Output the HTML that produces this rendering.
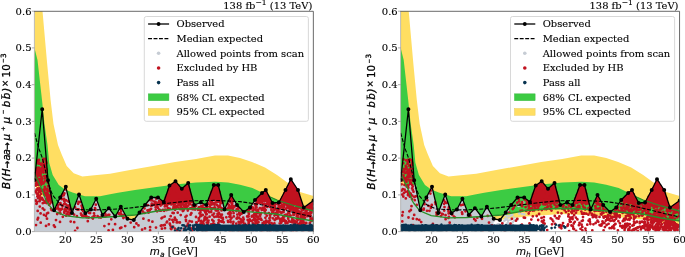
<!DOCTYPE html>
<html><head><meta charset="utf-8"><title>plot</title>
<style>
html,body{margin:0;padding:0;background:#fff}
svg{display:block;will-change:transform}
text{font-family:"DejaVu Serif","Liberation Serif",serif;fill:#000;stroke:#000;stroke-width:0.12px}
.tk{font-size:10.0px}
.lb{font-size:10.35px}
.tt{font-size:9.95px}
.lg{font-size:9.95px}
.mi{font-family:"DejaVu Sans","Liberation Sans",sans-serif;font-style:italic;stroke-width:0.3px}
</style></head><body>
<svg width="685" height="257" viewBox="0 0 685 257">
<rect width="685" height="257" fill="#fff"/>
<clipPath id="c0"><rect x="34.4" y="11.2" width="278.90000000000003" height="220.4"/></clipPath>
<g clip-path="url(#c0)">
<polygon points="34.5,-90.0 42.5,11.0 47.0,62.0 50.6,100.0 53.5,124.0 58.0,145.0 61.5,154.0 66.7,166.0 73.7,173.2 82.4,176.4 92.0,175.5 110.0,173.7 130.0,170.0 153.0,166.0 175.0,162.0 196.0,159.0 215.0,155.5 228.0,155.5 240.0,158.0 252.0,162.0 265.0,167.5 277.0,175.0 288.0,183.0 300.0,192.0 313.5,196.0 313.5,226.0 276.0,219.5 240.0,216.0 196.0,214.0 160.0,216.5 135.0,219.7 116.0,221.0 85.0,222.0 65.0,220.0 55.0,217.0 47.0,212.0 40.0,200.0 34.5,183.0" fill="#ffde62"/>
<polygon points="34.5,48.0 37.5,60.0 42.0,100.0 44.5,124.0 47.5,145.0 49.2,162.7 52.7,175.0 58.8,185.0 65.0,189.5 72.5,192.5 85.0,196.3 100.0,196.2 110.0,194.3 118.0,192.8 135.0,190.0 153.0,187.5 175.0,184.5 196.0,182.5 215.0,181.8 228.0,182.6 240.0,184.8 252.5,188.0 265.0,194.0 277.0,200.0 295.0,206.0 313.5,211.0 313.5,221.0 295.0,218.0 276.0,214.0 240.0,211.0 215.0,209.0 196.0,208.5 180.0,209.0 160.0,210.5 135.0,215.0 116.0,216.5 100.0,217.5 82.4,217.8 65.0,215.6 53.6,210.8 47.8,203.5 46.2,201.0 42.2,190.0 36.2,177.5 34.5,172.0" fill="#3ccb43"/>
<polygon points="34.4,204.0 34.9,204.0 35.4,204.0 35.9,204.0 36.4,204.0 36.9,204.0 37.4,204.0 37.9,204.0 38.4,204.0 38.9,204.0 39.4,204.0 39.9,204.0 40.4,204.0 40.9,204.0 41.4,204.0 41.9,204.0 42.4,204.0 42.9,204.0 43.4,204.0 43.9,204.0 44.4,204.0 44.9,204.0 45.4,204.0 45.9,204.0 46.4,204.0 46.9,204.0 47.4,204.0 47.9,204.0 48.4,204.0 48.9,204.0 49.4,200.0 49.9,195.0 50.4,192.0 50.9,194.5 51.4,196.9 51.9,199.4 52.4,201.8 52.9,204.3 53.4,206.8 53.9,209.2 54.4,209.6 54.9,208.5 55.4,207.5 55.9,206.4 56.4,205.4 56.9,204.3 57.4,203.3 57.9,202.2 58.4,201.2 58.9,200.1 59.4,199.1 59.9,198.0 60.4,197.0 60.9,196.1 61.4,195.1 61.9,194.2 62.4,193.2 62.9,192.3 63.4,191.3 63.9,190.4 64.4,189.4 64.9,188.5 65.4,187.6 65.9,187.2 66.4,189.3 66.9,191.4 67.4,193.6 67.9,195.7 68.4,197.8 68.9,199.9 69.4,202.0 69.9,204.1 70.4,206.2 70.9,208.4 71.4,210.5 71.9,212.6 72.4,211.9 72.9,210.6 73.4,209.3 73.9,208.0 74.4,206.7 74.9,205.3 75.4,204.0 75.9,202.7 76.4,201.4 76.9,200.0 77.4,198.7 77.9,197.4 78.4,196.1 78.9,194.8 79.4,195.7 79.9,197.2 80.4,198.7 80.9,200.1 81.4,201.6 81.9,203.1 82.4,204.6 82.9,206.1 83.4,207.6 83.9,209.0 84.4,210.5 84.9,212.0 85.4,213.1 85.9,212.8 86.4,212.5 86.9,212.1 87.4,211.8 87.9,211.4 88.4,211.1 88.9,210.8 89.4,210.4 89.9,210.1 90.4,209.7 90.9,209.2 91.4,208.2 91.9,207.3 92.4,206.3 92.9,205.3 93.4,204.3 93.9,203.3 94.4,202.4 94.9,201.4 95.4,200.4 95.9,199.4 96.4,199.1 96.9,200.4 97.4,201.7 97.9,203.0 98.4,204.3 98.9,205.6 99.4,206.9 99.9,208.2 100.4,209.5 100.9,210.8 101.4,212.1 101.9,213.4 102.4,214.7 102.9,214.6 103.4,214.0 103.9,213.5 104.4,212.9 104.9,212.4 105.4,211.9 105.9,211.3 106.4,210.8 106.9,210.2 107.4,209.7 107.9,209.2 108.4,208.6 108.9,208.4 109.4,209.1 109.9,209.7 110.4,210.4 110.9,211.0 111.4,211.6 111.9,212.3 112.4,212.9 112.9,213.6 113.4,214.2 113.9,214.8 114.4,215.5 114.9,216.1 115.4,216.1 115.9,215.3 116.4,214.4 116.9,213.5 117.4,212.6 117.9,211.8 118.4,210.9 118.9,210.0 119.4,209.1 119.9,208.2 120.4,207.4 120.9,207.0 121.4,207.9 121.9,208.8 122.4,209.7 122.9,210.6 123.4,211.5 123.9,212.4 124.4,213.2 124.9,214.1 125.4,215.0 125.9,215.9 126.4,216.8 126.9,217.7 127.4,218.6 127.9,218.8 128.4,218.9 128.9,219.0 129.4,219.1 129.9,219.2 130.4,219.3 130.9,219.4 131.4,219.5 131.9,219.6 132.4,219.7 132.9,219.8 133.4,219.9 133.9,219.8 134.4,219.2 134.9,218.5 135.4,217.8 135.9,217.2 136.4,216.5 136.9,215.9 137.4,215.2 137.9,214.6 138.4,213.9 138.9,213.3 139.4,212.6 139.9,212.0 140.4,211.3 140.9,210.6 141.4,209.9 141.9,209.2 142.4,208.5 142.9,207.9 143.4,207.2 143.9,206.5 144.4,205.8 144.9,205.1 145.4,204.5 145.9,203.9 146.4,203.3 146.9,202.7 147.4,202.1 147.9,201.5 148.4,200.9 148.9,200.3 149.4,199.7 149.9,199.1 150.4,198.5 150.9,197.9 151.4,197.5 151.9,197.5 152.4,197.5 152.9,197.5 153.4,197.5 153.9,197.5 154.4,197.5 154.9,197.5 155.4,197.5 155.9,197.5 156.4,197.5 156.9,197.5 157.4,197.5 157.9,197.5 158.4,197.8 158.9,198.2 159.4,198.6 159.9,199.0 160.4,199.4 160.9,199.8 161.4,200.2 161.9,200.6 162.4,200.9 162.9,201.3 163.4,201.7 163.9,201.6 164.4,200.1 164.9,198.7 165.4,197.3 165.9,195.8 166.4,194.4 166.9,193.0 167.4,191.5 167.9,190.1 168.4,188.7 168.9,187.2 169.4,185.8 169.9,185.2 170.4,184.9 170.9,184.5 171.4,184.2 171.9,183.8 172.4,183.4 172.9,183.1 173.4,182.7 173.9,182.4 174.4,182.0 174.9,181.7 175.4,181.3 175.9,181.7 176.4,182.3 176.9,182.9 177.4,183.5 177.9,184.1 178.4,184.7 178.9,185.3 179.4,185.9 179.9,186.5 180.4,187.1 180.9,187.7 181.4,188.3 181.9,188.6 182.4,188.2 182.9,187.7 183.4,187.3 183.9,186.8 184.4,186.4 184.9,186.0 185.4,185.5 185.9,185.1 186.4,184.6 186.9,184.2 187.4,183.8 187.9,183.3 188.4,183.6 188.9,185.4 189.4,187.3 189.9,189.1 190.4,190.9 190.9,192.8 191.4,194.6 191.9,196.5 192.4,198.3 192.9,200.2 193.4,202.0 193.9,203.9 194.4,204.9 194.9,204.7 195.4,204.5 195.9,204.4 196.4,204.2 196.9,204.0 197.4,203.8 197.9,203.6 198.4,203.4 198.9,203.2 199.4,203.0 199.9,202.8 200.4,202.6 200.9,202.6 201.4,202.8 201.9,203.0 202.4,203.2 202.9,203.5 203.4,203.7 203.9,203.9 204.4,204.2 204.9,204.4 205.4,204.6 205.9,204.8 206.4,204.6 206.9,203.3 207.4,201.9 207.9,200.6 208.4,199.3 208.9,197.9 209.4,196.6 209.9,195.3 210.4,193.9 210.9,192.6 211.4,191.3 211.9,189.9 212.4,188.6 212.9,187.3 213.4,185.9 213.9,185.0 214.4,185.0 214.9,185.0 215.4,185.0 215.9,185.0 216.4,185.0 216.9,185.0 217.4,185.0 217.9,185.0 218.4,185.6 218.9,187.5 219.4,189.5 219.9,191.5 220.4,193.4 220.9,195.4 221.4,197.3 221.9,199.3 222.4,201.3 222.9,203.2 223.4,205.2 223.9,207.1 224.4,209.1 224.9,208.6 225.4,207.6 225.9,206.5 226.4,205.4 226.9,204.3 227.4,203.3 227.9,202.2 228.4,201.1 228.9,200.0 229.4,199.0 229.9,197.9 230.4,196.8 230.9,195.8 231.4,195.3 231.9,196.1 232.4,197.0 232.9,197.9 233.4,198.7 233.9,199.6 234.4,200.5 234.9,201.3 235.4,202.2 235.9,203.1 236.4,204.0 236.9,204.8 237.4,205.4 237.9,205.9 238.4,206.5 238.9,207.0 239.4,207.5 239.9,208.0 240.4,208.5 240.9,209.0 241.4,209.6 241.9,210.1 242.4,210.6 242.9,211.1 243.4,211.6 243.9,211.9 244.4,211.5 244.9,211.2 245.4,210.8 245.9,210.5 246.4,210.1 246.9,209.7 247.4,209.4 247.9,209.0 248.4,208.7 248.9,208.3 249.4,207.9 249.9,207.6 250.4,206.9 250.9,206.1 251.4,205.4 251.9,204.6 252.4,203.9 252.9,203.1 253.4,202.4 253.9,201.6 254.4,200.9 254.9,200.1 255.4,199.6 255.9,199.1 256.4,198.6 256.9,198.1 257.4,197.6 257.9,197.1 258.4,196.6 258.9,196.1 259.4,195.6 259.9,195.1 260.4,194.6 260.9,194.1 261.4,193.6 261.9,193.1 262.4,192.7 262.9,192.3 263.4,191.9 263.9,191.5 264.4,191.1 264.9,190.7 265.4,190.3 265.9,190.3 266.4,191.3 266.9,192.2 267.4,193.2 267.9,194.1 268.4,195.1 268.9,196.1 269.4,197.0 269.9,198.0 270.4,199.0 270.9,199.9 271.4,200.9 271.9,201.8 272.4,202.8 272.9,203.0 273.4,202.9 273.9,202.9 274.4,202.8 274.9,202.8 275.4,202.8 275.9,202.7 276.4,202.7 276.9,202.6 277.4,202.6 277.9,202.6 278.4,202.5 278.9,202.2 279.4,201.3 279.9,200.4 280.4,199.4 280.9,198.5 281.4,197.6 281.9,196.7 282.4,195.7 282.9,194.8 283.4,193.9 283.9,193.0 284.4,192.0 284.9,191.1 285.4,190.2 285.9,189.2 286.4,188.2 286.9,187.1 287.4,186.1 287.9,185.1 288.4,184.1 288.9,183.0 289.4,182.0 289.9,181.0 290.4,180.0 290.9,179.5 291.4,180.2 291.9,181.0 292.4,181.7 292.9,182.4 293.4,183.2 293.9,183.9 294.4,184.7 294.9,185.4 295.4,186.1 295.9,186.9 296.4,187.6 296.9,188.4 297.4,189.1 297.9,189.9 298.4,191.2 298.9,192.7 299.4,194.3 299.9,195.8 300.4,197.3 300.9,198.8 301.4,200.3 301.9,201.9 302.4,203.4 302.9,204.9 303.4,206.4 303.9,207.4 304.4,207.0 304.9,206.7 305.4,206.3 305.9,206.0 306.4,205.6 306.9,205.2 307.4,204.9 307.9,204.5 308.4,204.2 308.9,203.8 309.4,203.4 309.9,203.1 310.4,202.7 310.9,202.4 311.4,202.0 311.9,201.6 312.4,201.3 312.9,200.9 313.3,231.6 34.4,231.6" fill="#c6ccd4"/>
<path d="M40.1 198.2h0M44.9 197.6h0M43.2 199.9h0M36.2 201.1h0M35.9 200.5h0M36.4 197.7h0M41.6 203.6h0M37.2 198.8h0M44.6 204.6h0M43.8 200.2h0M49.7 197.4h0M47.9 199.3h0M37.5 197.9h0M39.9 203.5h0M38.0 201.7h0M44.7 200.0h0M43.4 197.5h0M36.3 198.6h0M45.3 200.4h0M40.0 201.7h0M42.0 199.4h0M47.0 202.6h0M39.0 201.6h0M43.1 204.0h0M46.0 199.3h0M49.7 197.9h0M41.5 203.1h0M37.6 200.9h0M36.0 202.3h0M46.6 201.6h0M48.2 199.5h0M45.6 201.8h0M43.9 200.6h0M47.7 204.6h0M42.3 202.3h0M36.3 202.6h0M44.8 204.9h0M47.4 199.3h0M41.0 202.3h0M35.7 200.7h0M37.9 197.9h0M36.3 203.1h0M37.3 199.0h0M41.1 204.0h0M36.6 200.6h0M43.4 204.1h0M47.4 203.9h0M39.5 200.3h0M40.6 204.1h0M49.4 198.2h0M38.0 198.9h0M38.8 200.9h0M44.0 199.1h0M35.5 200.4h0M40.8 201.5h0M49.3 202.5h0M42.9 201.9h0M45.3 197.4h0M48.5 203.2h0M48.2 203.4h0" stroke="#c6ccd4" stroke-width="2.8" stroke-linecap="round" fill="none"/>
<polygon points="160.4,199.4 160.9,199.8 161.4,200.2 161.9,200.6 162.4,200.9 162.9,201.3 163.4,201.7 163.9,201.6 164.4,200.1 164.9,198.7 165.4,197.3 165.9,195.8 166.4,194.4 166.9,193.0 167.4,191.5 167.9,190.1 168.4,188.7 168.9,187.2 169.4,185.8 169.9,185.2 170.4,184.9 170.9,184.5 171.4,184.2 171.9,183.8 172.4,183.4 172.9,183.1 173.4,182.7 173.9,182.4 174.4,182.0 174.9,181.7 175.4,181.3 175.9,181.7 176.4,182.3 176.9,182.9 177.4,183.5 177.9,184.1 178.4,184.7 178.9,185.3 179.4,185.9 179.9,186.5 180.4,187.1 180.9,187.7 181.4,188.3 181.9,188.6 182.4,188.2 182.9,187.7 183.4,187.3 183.9,186.8 184.4,186.4 184.9,186.0 185.4,185.5 185.9,185.1 186.4,184.6 186.9,184.2 187.4,183.8 187.9,183.3 188.4,183.6 188.9,185.4 189.4,187.3 189.9,189.1 190.4,190.9 190.9,192.8 191.4,194.6 191.9,196.5 192.4,198.3 192.9,200.2 193.4,202.0 193.4,203.0 192.9,203.0 192.4,203.0 191.9,203.0 191.4,203.0 190.9,203.0 190.4,203.0 189.9,203.0 189.4,203.0 188.9,203.0 188.4,203.0 187.9,203.0 187.4,203.0 186.9,203.0 186.4,203.0 185.9,203.0 185.4,203.0 184.9,203.0 184.4,203.0 183.9,203.0 183.4,203.0 182.9,203.0 182.4,203.0 181.9,203.0 181.4,203.0 180.9,203.0 180.4,203.0 179.9,203.0 179.4,203.0 178.9,203.0 178.4,203.0 177.9,203.0 177.4,203.0 176.9,203.0 176.4,203.0 175.9,203.0 175.4,203.0 174.9,203.0 174.4,203.0 173.9,203.0 173.4,203.0 172.9,203.0 172.4,203.0 171.9,203.0 171.4,203.0 170.9,203.0 170.4,203.0 169.9,203.0 169.4,203.0 168.9,203.0 168.4,203.0 167.9,203.0 167.4,203.0 166.9,203.0 166.4,203.0 165.9,203.0 165.4,203.0 164.9,203.0 164.4,203.0 163.9,203.0 163.4,203.0 162.9,203.0 162.4,203.0 161.9,203.0 161.4,203.0 160.9,203.0 160.4,203.0" fill="#c1121f"/>
<polygon points="208.4,199.3 208.9,197.9 209.4,196.6 209.9,195.3 210.4,193.9 210.9,192.6 211.4,191.3 211.9,189.9 212.4,188.6 212.9,187.3 213.4,185.9 213.9,185.0 214.4,185.0 214.9,185.0 215.4,185.0 215.9,185.0 216.4,185.0 216.9,185.0 217.4,185.0 217.9,185.0 218.4,185.6 218.9,187.5 219.4,189.5 219.9,191.5 220.4,193.4 220.9,195.4 221.4,197.3 221.9,199.3 221.9,201.0 221.4,201.0 220.9,201.0 220.4,201.0 219.9,201.0 219.4,201.0 218.9,201.0 218.4,201.0 217.9,201.0 217.4,201.0 216.9,201.0 216.4,201.0 215.9,201.0 215.4,201.0 214.9,201.0 214.4,201.0 213.9,201.0 213.4,201.0 212.9,201.0 212.4,201.0 211.9,201.0 211.4,201.0 210.9,201.0 210.4,201.0 209.9,201.0 209.4,201.0 208.9,201.0 208.4,201.0" fill="#c1121f"/>
<polygon points="228.9,200.0 229.4,199.0 229.9,197.9 230.4,196.8 230.9,195.8 231.4,195.3 231.9,196.1 232.4,197.0 232.9,197.9 233.4,198.7 233.9,199.6 234.4,200.5 234.4,201.0 233.9,201.0 233.4,201.0 232.9,201.0 232.4,201.0 231.9,201.0 231.4,201.0 230.9,201.0 230.4,201.0 229.9,201.0 229.4,201.0 228.9,201.0" fill="#c1121f"/>
<polygon points="254.9,200.1 255.4,199.6 255.9,199.1 256.4,198.6 256.9,198.1 257.4,197.6 257.9,197.1 258.4,196.6 258.9,196.1 259.4,195.6 259.9,195.1 260.4,194.6 260.9,194.1 261.4,193.6 261.9,193.1 262.4,192.7 262.9,192.3 263.4,191.9 263.9,191.5 264.4,191.1 264.9,190.7 265.4,190.3 265.9,190.3 266.4,191.3 266.9,192.2 267.4,193.2 267.9,194.1 268.4,195.1 268.9,196.1 269.4,197.0 269.9,198.0 270.4,199.0 270.9,199.9 270.9,201.2 270.4,201.1 269.9,201.0 269.4,201.0 268.9,201.0 268.4,201.0 267.9,201.0 267.4,201.0 266.9,201.0 266.4,201.0 265.9,201.0 265.4,201.0 264.9,201.0 264.4,201.0 263.9,201.0 263.4,201.0 262.9,201.0 262.4,201.0 261.9,201.0 261.4,201.0 260.9,201.0 260.4,201.0 259.9,201.0 259.4,201.0 258.9,201.0 258.4,201.0 257.9,201.0 257.4,201.0 256.9,201.0 256.4,201.0 255.9,201.0 255.4,201.0 254.9,201.0" fill="#c1121f"/>
<polygon points="279.4,201.3 279.9,200.4 280.4,199.4 280.9,198.5 281.4,197.6 281.9,196.7 282.4,195.7 282.9,194.8 283.4,193.9 283.9,193.0 284.4,192.0 284.9,191.1 285.4,190.2 285.9,189.2 286.4,188.2 286.9,187.1 287.4,186.1 287.9,185.1 288.4,184.1 288.9,183.0 289.4,182.0 289.9,181.0 290.4,180.0 290.9,179.5 291.4,180.2 291.9,181.0 292.4,181.7 292.9,182.4 293.4,183.2 293.9,183.9 294.4,184.7 294.9,185.4 295.4,186.1 295.9,186.9 296.4,187.6 296.9,188.4 297.4,189.1 297.9,189.9 298.4,191.2 298.9,192.7 299.4,194.3 299.9,195.8 300.4,197.3 300.9,198.8 301.4,200.3 301.9,201.9 302.4,203.4 302.9,204.9 302.9,206.7 302.4,206.6 301.9,206.5 301.4,206.4 300.9,206.3 300.4,206.2 299.9,206.2 299.4,206.1 298.9,206.0 298.4,205.9 297.9,205.8 297.4,205.7 296.9,205.6 296.4,205.6 295.9,205.5 295.4,205.4 294.9,205.3 294.4,205.2 293.9,205.1 293.4,205.0 292.9,204.9 292.4,204.9 291.9,204.8 291.4,204.7 290.9,204.6 290.4,204.5 289.9,204.4 289.4,204.3 288.9,204.3 288.4,204.2 287.9,204.1 287.4,204.0 286.9,203.9 286.4,203.8 285.9,203.7 285.4,203.7 284.9,203.6 284.4,203.5 283.9,203.4 283.4,203.3 282.9,203.2 282.4,203.1 281.9,203.1 281.4,203.0 280.9,202.9 280.4,202.8 279.9,202.7 279.4,202.6" fill="#c1121f"/>
<polygon points="305.4,206.3 305.9,206.0 306.4,205.6 306.9,205.2 307.4,204.9 307.9,204.5 308.4,204.2 308.9,203.8 309.4,203.4 309.9,203.1 310.4,202.7 310.9,202.4 311.4,202.0 311.9,201.6 312.4,201.3 312.9,200.9 312.9,208.4 312.4,208.3 311.9,208.2 311.4,208.1 310.9,208.1 310.4,208.0 309.9,207.9 309.4,207.8 308.9,207.7 308.4,207.6 307.9,207.5 307.4,207.4 306.9,207.4 306.4,207.3 305.9,207.2 305.4,207.1" fill="#c1121f"/>
<path d="M64.1 204.2h0M274.9 208.7h0M43.4 159.6h0M216.5 216.4h0M277.2 218.3h0M290.0 194.4h0M297.1 219.3h0M252.9 223.5h0M234.1 206.1h0M280.3 228.7h0M189.1 189.9h0M288.2 217.8h0M41.6 179.9h0M183.9 206.0h0M306.7 226.4h0M284.4 193.3h0M243.7 219.3h0M187.8 210.5h0M166.7 200.7h0M290.6 205.0h0M211.9 208.9h0M295.0 212.4h0M136.4 223.5h0M270.4 206.4h0M251.2 227.1h0M191.4 213.2h0M218.2 190.4h0M300.8 224.9h0M254.1 226.0h0M82.2 215.3h0M182.6 204.3h0M196.3 222.5h0M310.8 203.9h0M262.7 223.1h0M264.3 204.0h0M41.2 176.4h0M271.6 203.0h0M230.9 197.1h0M65.9 204.3h0M285.4 194.4h0M230.5 219.6h0M174.2 204.0h0M213.4 190.9h0M171.3 229.2h0M165.5 198.9h0M293.0 220.4h0M299.4 205.8h0M254.0 219.2h0M212.1 204.3h0M169.8 223.6h0M213.4 226.2h0M290.2 190.4h0M272.7 211.2h0M302.9 210.3h0M167.6 200.9h0M170.3 199.2h0M45.9 172.3h0M298.2 224.5h0M303.3 230.5h0M46.1 176.3h0M214.8 230.0h0M199.5 213.3h0M75.1 207.4h0M167.9 203.7h0M283.7 206.7h0M266.3 196.3h0M179.6 190.3h0M177.8 196.5h0M62.2 208.9h0M180.5 209.2h0M276.6 210.3h0M261.5 219.9h0M193.6 205.4h0M187.4 202.6h0M70.7 221.6h0M177.3 194.7h0M311.1 204.3h0M173.5 198.2h0M78.6 209.5h0M177.7 197.4h0M217.8 199.3h0M280.3 220.9h0M218.2 209.0h0M46.5 169.4h0M66.2 215.7h0M289.1 212.7h0M231.5 206.8h0M310.6 212.7h0M270.0 225.7h0M297.5 193.9h0M46.5 189.8h0M218.9 195.4h0M130.7 222.6h0M182.4 199.1h0M282.3 197.8h0M171.1 198.3h0M177.8 200.8h0M233.6 213.2h0M310.2 210.6h0M39.6 201.2h0M289.9 221.6h0M298.4 210.6h0M292.1 207.2h0M267.9 200.3h0M39.2 182.7h0M188.2 187.4h0M290.9 200.4h0M172.5 201.5h0M184.8 200.8h0M217.8 201.8h0M43.2 167.4h0M174.6 198.4h0M240.1 225.3h0M251.7 221.0h0M82.2 207.8h0M280.1 229.6h0M45.9 194.7h0M176.5 187.5h0M75.1 231.0h0M214.7 197.9h0M180.2 192.6h0M180.0 190.8h0M256.8 213.3h0M248.8 214.2h0M177.1 188.4h0M290.4 198.4h0M155.7 204.6h0M286.7 208.0h0M51.1 208.7h0M283.1 219.7h0M297.4 205.8h0M44.8 195.3h0M173.0 196.9h0M183.9 194.8h0M193.6 208.2h0M201.6 229.8h0M163.5 225.3h0M270.0 215.4h0M304.1 215.5h0M36.6 193.5h0M218.8 216.9h0M299.8 223.1h0M303.6 228.3h0M289.9 196.5h0M264.7 199.2h0M36.4 203.8h0M43.9 214.8h0M175.4 188.7h0M260.6 219.4h0M64.3 201.0h0M211.2 212.1h0M46.0 161.1h0M305.4 209.8h0M200.3 216.3h0M50.4 197.6h0M69.3 205.3h0M37.3 163.0h0M179.7 191.0h0M311.2 212.9h0M115.1 224.2h0M39.4 184.1h0M216.3 199.4h0M163.0 209.9h0M216.5 195.4h0M203.2 205.4h0M196.7 222.7h0M40.3 178.8h0M216.7 195.2h0M232.1 205.2h0M301.3 215.3h0M219.4 213.9h0M36.5 174.4h0M232.7 230.2h0M256.5 216.5h0M219.4 199.1h0M183.3 210.8h0M49.0 195.3h0M176.0 195.9h0M161.8 204.4h0M281.5 213.1h0M179.2 193.1h0M279.6 206.5h0M301.3 208.7h0M294.1 198.7h0M177.8 192.0h0M232.9 209.8h0M268.0 225.6h0M256.5 207.4h0M297.5 192.2h0M290.7 187.1h0M297.5 197.9h0M284.4 216.4h0M292.0 189.4h0M201.0 229.4h0M293.1 202.8h0M293.4 213.2h0M287.1 200.7h0M68.3 212.6h0M271.6 223.2h0M301.6 229.7h0M43.4 172.6h0M38.1 198.2h0M198.9 218.2h0M265.8 229.7h0M174.9 199.8h0M270.5 205.2h0M233.8 216.4h0M275.3 204.4h0M277.3 210.3h0M298.3 199.1h0M179.3 193.0h0M211.6 208.5h0M272.7 224.4h0M177.0 193.8h0M169.5 202.9h0M265.1 195.8h0M42.6 182.3h0M176.8 194.4h0M167.2 197.1h0M175.1 219.1h0M268.1 221.6h0M37.7 181.7h0M293.7 186.4h0M218.7 198.7h0M233.1 211.1h0M41.5 190.0h0M174.5 188.0h0M198.0 209.8h0M40.8 185.1h0M201.2 221.0h0M261.3 202.5h0M309.9 222.8h0M260.8 199.2h0M292.8 184.8h0M171.9 187.3h0M309.1 213.3h0M279.1 206.4h0M192.4 230.5h0M168.0 204.2h0M231.0 227.2h0M250.1 226.4h0M187.4 225.8h0M229.8 200.2h0M276.0 218.3h0M228.8 207.0h0M182.9 209.0h0M150.1 230.4h0M257.3 211.3h0M179.3 200.4h0M186.0 188.8h0M184.5 196.7h0M47.6 193.3h0M183.1 204.5h0M83.4 211.3h0M298.8 227.9h0M173.6 206.5h0M83.8 216.0h0M208.2 220.9h0M303.5 223.1h0M150.1 227.2h0M40.0 181.7h0M217.4 200.8h0M263.4 200.6h0M177.9 192.6h0M47.0 218.7h0M202.5 215.0h0M260.1 196.4h0M185.1 187.7h0M311.2 205.2h0M237.0 218.3h0M41.9 177.6h0M240.0 230.0h0M37.1 183.5h0M184.4 199.8h0M291.2 189.8h0M56.2 208.6h0M293.3 206.8h0M181.3 204.1h0M108.4 214.9h0M290.8 196.7h0M265.4 195.5h0M40.9 193.9h0M194.7 207.1h0M272.2 212.9h0M281.3 205.8h0M290.1 184.6h0M93.8 216.1h0M168.6 192.0h0M300.0 201.3h0M177.5 200.4h0M291.3 230.0h0M112.9 230.0h0M178.5 197.2h0M208.5 220.6h0M166.7 210.0h0M157.9 207.8h0M36.0 183.5h0M286.4 197.6h0M214.4 216.9h0M64.6 199.9h0M295.1 193.7h0M285.7 193.8h0M276.6 214.7h0M219.8 195.9h0M41.6 183.4h0M269.8 220.5h0M299.2 205.1h0M209.9 206.7h0M181.2 192.7h0M215.1 198.3h0M39.1 191.7h0M298.5 194.9h0M219.1 193.8h0M286.3 190.2h0M179.6 205.2h0M287.7 202.2h0M279.6 211.6h0M294.2 203.9h0M194.4 206.5h0M36.7 177.0h0M301.0 207.4h0M47.8 190.6h0M289.3 213.0h0M61.6 205.1h0M220.2 207.0h0M252.9 207.6h0M290.6 215.6h0M271.4 209.3h0M220.7 221.3h0M203.6 208.1h0M52.0 202.2h0M170.5 188.5h0M288.3 189.5h0M189.2 196.0h0M180.7 215.1h0M42.7 165.8h0M37.3 196.3h0M172.5 192.5h0M155.6 202.0h0M186.7 225.8h0M292.2 208.3h0M212.2 200.5h0M217.4 194.1h0M214.7 207.4h0M184.2 200.7h0M186.2 200.4h0M43.3 167.5h0M185.3 191.0h0M38.8 196.4h0M297.8 206.5h0M67.9 206.0h0M210.5 204.9h0M267.3 203.0h0M168.0 195.3h0M265.3 213.4h0M189.4 201.4h0M309.5 213.6h0M233.4 222.0h0M154.3 201.6h0M189.1 197.6h0M220.5 203.6h0M215.2 208.0h0M188.7 186.3h0M164.7 216.6h0M210.8 202.0h0M263.6 196.8h0M173.0 192.2h0M164.9 210.1h0M48.5 200.4h0M264.9 194.9h0M210.9 195.2h0M290.4 185.2h0M284.0 205.0h0M168.6 209.3h0M70.3 210.3h0M200.6 214.6h0M291.2 206.7h0M215.9 197.7h0M74.1 214.6h0M190.6 214.7h0M183.4 198.0h0M48.2 197.0h0M188.1 205.7h0M300.4 224.0h0M290.0 189.4h0M295.2 189.9h0M165.6 203.0h0M187.7 187.0h0M261.2 196.0h0M150.7 199.7h0M255.8 207.5h0M174.8 217.7h0M293.1 196.4h0M218.2 209.8h0M291.1 196.6h0M294.0 214.8h0M259.6 228.6h0M303.1 208.0h0M257.9 201.5h0M166.4 204.6h0M169.8 189.7h0M265.7 204.7h0M174.0 190.0h0M196.0 205.8h0M191.9 221.7h0M289.0 220.9h0M271.5 210.3h0M308.6 230.6h0M285.0 195.2h0M268.6 200.9h0M262.5 208.0h0M268.8 213.1h0M74.2 222.2h0M306.4 227.1h0M94.6 215.8h0M267.9 201.3h0M283.5 218.9h0M232.9 224.1h0M230.9 202.4h0M289.0 196.7h0M184.9 191.9h0M292.5 209.5h0M258.2 209.8h0M118.4 213.5h0M288.9 192.0h0M38.2 162.2h0M304.9 226.1h0M230.3 215.9h0M185.9 219.8h0M220.8 202.1h0M225.3 228.9h0M298.2 192.1h0M182.9 209.7h0M170.4 225.6h0M231.6 199.7h0M121.4 227.6h0M297.1 191.1h0M311.3 206.4h0M40.1 191.3h0M211.7 197.5h0M268.4 226.4h0M296.2 193.0h0M44.9 195.6h0M181.2 202.0h0M45.7 167.7h0M125.9 217.1h0M186.5 186.2h0M212.9 203.2h0M212.4 191.3h0M38.6 173.6h0M38.6 189.9h0M183.6 188.8h0M306.0 223.0h0M123.4 218.1h0M174.7 194.9h0M144.6 212.9h0M142.6 211.6h0M177.7 212.7h0M284.6 230.1h0M188.7 193.2h0M173.7 194.2h0M227.9 204.2h0M185.7 186.9h0M69.4 209.1h0M265.7 210.1h0M187.7 196.6h0M294.2 188.9h0M233.1 201.2h0M46.2 188.8h0M219.8 205.7h0M291.2 203.1h0M215.8 195.6h0M169.7 197.9h0M256.2 215.3h0M248.8 210.1h0M189.4 199.5h0M62.7 194.5h0M39.0 168.6h0M88.7 217.5h0M97.6 216.2h0M45.8 169.4h0M172.4 219.9h0M267.3 206.9h0M37.6 174.0h0M150.2 200.2h0M260.5 214.4h0M176.5 220.1h0M67.2 208.4h0M187.3 208.5h0M166.7 222.4h0M290.3 210.2h0M274.4 223.4h0M296.0 201.7h0M303.8 216.1h0M45.4 201.2h0M295.3 223.5h0M221.5 210.4h0M185.0 193.6h0M60.4 209.1h0M270.2 230.8h0M189.6 221.2h0M231.2 201.1h0M185.9 203.5h0M186.5 206.5h0M40.3 191.5h0M38.0 195.3h0M180.5 199.8h0M62.8 216.8h0M247.4 230.4h0M288.6 227.7h0M37.1 180.6h0M250.7 227.4h0M283.6 228.2h0M260.2 215.8h0M169.0 197.3h0M310.1 210.7h0M204.3 228.4h0M282.7 218.6h0M173.2 208.7h0M50.8 197.2h0M215.2 208.3h0M42.1 183.4h0M291.7 182.7h0M230.0 208.5h0M179.3 196.3h0M147.5 210.4h0M247.7 220.0h0M165.2 209.7h0M256.1 221.9h0M47.5 201.0h0M42.9 199.6h0M275.3 213.5h0M58.4 205.1h0M174.3 199.8h0M264.1 193.8h0M42.0 198.1h0M309.6 209.7h0M295.3 191.0h0M41.3 164.9h0M171.6 203.6h0M176.2 200.1h0M47.4 189.0h0M174.1 199.4h0M261.5 195.7h0M39.8 189.5h0M283.9 202.5h0M212.4 195.0h0M178.0 185.5h0M283.3 231.1h0M256.7 213.3h0M176.5 190.2h0M219.0 198.5h0M173.3 203.8h0M284.4 220.5h0M251.7 208.4h0M44.9 168.0h0M178.8 193.0h0M289.7 204.2h0M288.0 188.7h0M36.5 190.2h0M48.0 196.9h0M165.3 205.5h0M186.1 203.7h0M189.7 204.1h0M288.9 204.9h0M299.9 201.6h0M311.4 212.0h0M264.7 211.8h0M218.3 195.1h0M70.6 212.1h0M172.4 192.0h0M269.4 227.0h0M293.1 226.9h0M260.8 218.7h0M174.8 219.7h0M42.1 191.0h0M293.6 211.0h0M301.0 227.8h0M258.9 201.0h0M177.9 192.1h0M82.9 209.4h0M293.7 205.1h0M296.3 228.3h0M186.7 188.6h0M268.7 198.0h0M165.8 197.3h0M220.8 201.7h0M270.1 217.5h0M306.6 215.3h0M267.4 195.6h0M270.5 230.7h0M182.1 191.1h0M77.4 209.5h0M66.9 205.4h0M151.1 199.3h0M290.3 215.7h0M37.7 184.5h0M234.7 228.0h0M56.0 220.1h0M278.8 205.9h0M180.2 230.9h0M211.8 192.1h0M255.9 220.3h0M50.6 195.5h0M164.9 201.8h0M258.9 202.9h0M176.4 186.1h0M290.4 187.6h0M158.7 202.2h0M287.1 202.9h0M190.0 199.8h0M194.6 208.7h0M212.7 198.6h0M236.3 223.7h0M292.0 222.2h0M188.4 186.7h0M300.0 222.6h0M285.6 223.3h0M261.1 213.1h0M182.0 202.6h0M216.8 216.6h0M240.3 214.1h0M182.8 211.1h0M65.5 210.1h0M188.6 190.4h0M191.9 199.9h0M293.4 189.1h0M258.5 212.5h0M277.0 212.5h0M297.2 219.1h0M120.1 214.5h0M276.9 229.3h0M173.3 184.4h0M253.3 230.3h0M182.6 192.8h0M289.0 203.6h0M214.1 223.9h0M297.0 213.9h0M174.0 185.9h0M299.6 212.2h0M211.8 198.6h0M291.6 191.5h0M276.0 213.2h0M283.0 209.0h0M238.8 230.6h0M172.6 198.2h0M204.5 218.2h0M65.4 208.6h0M292.7 192.9h0M157.4 205.5h0M176.4 194.3h0M298.9 194.5h0M185.9 194.9h0M142.5 211.2h0M202.6 222.4h0M206.7 214.2h0M41.7 199.2h0M273.2 207.4h0M43.5 159.0h0M213.6 196.7h0M173.1 199.0h0M161.5 218.3h0M304.6 226.5h0M82.3 216.0h0M300.6 205.2h0M166.6 202.5h0M180.5 201.5h0M302.0 226.4h0M174.2 186.1h0M166.5 202.4h0M180.7 190.5h0M37.0 171.2h0M48.5 190.5h0M235.6 226.4h0M293.4 214.9h0M171.4 191.0h0M166.0 201.0h0M206.3 214.3h0M175.3 196.4h0M210.2 201.2h0M311.6 229.0h0M291.0 205.1h0M274.2 207.7h0M207.1 217.9h0M189.3 203.3h0M44.3 209.8h0M205.3 212.4h0M239.2 212.7h0M262.0 202.1h0M171.9 227.6h0M183.9 200.1h0M60.3 213.5h0M285.3 202.6h0M209.3 212.2h0M202.8 215.1h0M293.7 193.7h0M264.6 229.6h0M265.3 191.9h0M294.3 193.0h0M41.9 169.2h0M192.5 205.4h0M179.5 190.6h0M303.3 220.3h0M249.7 219.3h0M280.9 202.4h0M265.4 229.9h0M182.2 189.9h0M283.1 220.7h0M39.8 188.3h0M171.3 204.4h0M189.6 199.5h0M298.4 199.6h0M266.4 222.5h0M179.2 188.5h0M231.0 206.7h0M288.2 189.2h0M46.4 203.1h0M151.1 208.8h0M296.5 203.6h0M287.2 197.6h0M237.3 214.6h0M174.1 207.9h0M230.1 208.4h0M262.0 231.1h0M206.6 230.7h0M186.1 197.3h0M192.5 209.2h0M301.9 222.9h0M301.1 206.2h0M66.2 200.4h0M270.2 206.9h0M297.6 196.3h0M221.9 214.7h0M45.4 166.1h0M248.6 216.5h0M38.8 185.0h0M291.1 183.4h0M193.4 204.9h0M299.1 207.8h0M152.1 200.4h0M174.6 204.3h0M216.0 198.0h0M177.7 202.4h0M167.1 198.5h0M280.3 211.9h0M297.6 193.0h0M68.5 201.5h0M171.8 202.7h0M37.9 171.0h0M217.0 205.1h0M39.5 195.8h0M293.3 192.8h0M184.4 202.2h0M95.4 209.8h0M266.6 200.8h0M243.9 223.8h0M241.5 221.0h0M294.9 209.5h0M40.7 222.7h0M177.2 206.7h0M230.5 200.5h0M44.1 170.1h0M64.0 198.8h0M147.7 205.1h0M266.0 205.7h0M298.8 219.1h0M160.0 210.7h0M46.0 200.4h0M254.7 204.1h0M211.2 224.4h0M151.7 200.3h0M310.4 220.1h0M46.0 169.1h0M200.8 210.0h0M264.6 195.6h0M186.9 202.5h0M275.0 206.7h0M40.6 213.4h0M205.1 217.0h0M205.1 229.5h0M217.1 199.3h0M184.1 206.2h0M165.6 201.4h0M255.6 209.8h0M42.8 168.2h0M290.9 196.6h0M215.5 196.8h0M248.6 221.5h0M292.4 218.7h0M206.4 210.9h0M290.5 209.0h0M289.5 210.9h0M186.8 188.8h0M293.7 224.7h0M183.6 197.9h0M308.4 208.4h0M210.0 204.4h0M190.5 228.2h0M302.9 230.1h0M232.3 200.7h0M58.0 207.6h0M35.8 185.6h0M170.7 192.6h0M288.9 190.7h0M288.7 204.5h0M256.0 223.2h0M161.2 202.2h0M200.5 212.2h0M231.0 198.6h0M285.8 204.3h0M311.6 220.8h0M268.0 203.7h0M212.6 229.0h0M108.6 230.4h0M187.3 201.4h0M283.8 196.1h0M270.4 201.4h0M187.5 200.7h0M39.3 182.3h0M176.7 187.6h0M175.4 189.7h0M299.1 204.3h0M39.0 163.7h0M311.5 228.5h0M45.0 181.1h0M172.6 187.5h0M217.8 198.3h0M42.7 208.4h0M178.1 189.6h0M214.5 190.5h0M286.2 209.1h0M195.1 209.6h0M180.9 206.6h0M234.6 206.5h0M263.0 196.3h0M218.8 198.6h0M257.0 200.5h0M243.2 222.1h0M282.3 205.1h0M184.3 188.1h0M65.3 189.4h0M285.5 196.0h0M174.1 194.6h0M222.8 217.9h0M274.7 220.1h0M285.0 192.4h0M168.7 192.3h0M49.0 198.8h0M288.3 213.3h0M268.3 198.7h0M38.1 217.9h0M44.5 166.1h0M304.9 225.4h0M269.4 204.2h0M264.8 198.7h0M171.8 192.5h0M154.2 204.4h0M45.9 215.9h0M269.2 199.1h0M298.9 205.6h0M183.2 192.4h0M35.7 200.8h0M42.0 170.0h0M166.9 206.3h0M279.0 205.7h0M190.2 208.5h0M181.5 190.7h0M302.4 227.8h0M148.8 220.4h0M44.1 191.6h0M241.9 211.4h0M216.9 198.6h0M164.8 206.4h0M99.0 217.3h0M179.6 190.2h0M212.4 203.4h0M283.7 220.3h0M285.9 226.9h0M57.4 205.2h0M284.5 229.5h0M168.3 191.4h0M202.0 206.8h0M214.8 191.2h0M60.0 212.9h0M37.8 180.3h0M66.7 214.3h0M296.7 216.4h0M151.8 203.6h0M218.1 199.9h0M178.2 200.6h0M265.2 200.9h0M289.2 202.1h0M184.1 192.6h0M48.1 212.9h0M205.2 208.5h0M291.2 195.2h0M216.1 200.1h0M175.5 197.6h0M253.9 225.7h0M199.3 207.5h0M283.4 197.3h0M104.4 226.1h0M42.8 203.2h0M214.8 195.4h0M50.7 200.8h0M175.1 194.8h0M297.8 199.4h0M259.3 197.5h0M269.2 199.4h0M170.0 208.8h0M172.2 192.3h0M46.2 199.0h0M182.0 207.8h0M168.6 189.6h0M106.4 215.7h0M285.6 204.3h0M216.9 196.7h0M217.9 200.9h0M40.5 199.7h0M310.0 207.8h0M39.2 162.7h0M71.5 212.6h0M172.1 197.0h0M63.8 194.0h0M298.0 229.0h0M35.9 191.9h0M293.4 229.0h0M202.8 225.2h0M300.6 211.9h0M296.4 211.3h0M162.6 203.2h0M287.1 228.7h0M150.9 205.7h0M159.3 200.8h0M38.8 175.5h0M297.6 220.0h0M40.5 197.7h0M262.6 197.0h0M44.7 195.3h0M179.5 196.6h0M120.6 209.1h0M265.0 226.8h0M205.0 208.6h0M175.1 209.8h0M165.0 228.2h0M170.8 199.9h0M188.2 196.1h0M160.6 205.6h0M265.4 217.8h0M169.8 193.0h0M177.8 191.5h0M178.2 207.6h0M293.4 209.1h0M206.5 211.3h0M263.2 209.7h0M181.4 199.2h0M177.5 188.3h0M276.7 227.7h0M254.4 225.0h0M187.9 196.0h0M227.4 229.1h0M227.8 208.3h0M176.0 202.8h0M175.1 190.3h0M219.1 193.2h0M189.0 196.6h0M169.9 196.8h0M259.9 208.2h0M285.7 221.3h0M232.2 203.6h0M287.7 216.1h0M46.4 199.0h0M202.6 230.1h0M246.4 225.7h0M176.6 187.7h0M208.2 222.5h0M166.5 205.1h0M209.2 228.3h0M239.9 215.0h0M170.8 200.2h0M273.7 228.7h0M296.2 191.7h0M216.6 194.7h0M57.2 214.0h0M212.3 203.1h0M193.7 209.1h0M236.6 209.3h0M176.8 200.8h0M266.9 195.0h0M83.2 211.0h0M237.1 218.6h0M296.8 214.1h0M191.4 197.4h0M175.6 197.1h0M310.7 229.1h0M166.0 198.7h0M262.0 208.8h0M298.5 198.2h0M217.3 186.6h0M309.3 215.4h0M187.6 186.9h0M47.2 202.4h0M263.1 201.1h0M78.5 202.0h0M160.9 210.7h0M303.0 207.7h0M108.9 224.1h0M260.6 202.6h0M179.7 192.1h0M185.7 195.7h0M216.3 191.1h0M228.2 213.6h0M180.6 191.4h0M295.5 200.6h0M257.3 202.6h0M250.4 220.7h0M186.7 188.8h0M216.9 190.3h0M181.9 202.6h0M239.1 230.3h0M184.9 207.0h0M59.8 203.4h0M60.6 198.3h0M207.9 203.3h0M169.8 224.0h0M214.2 193.7h0M46.6 169.7h0M290.6 228.8h0M218.7 220.1h0M257.8 216.9h0M241.6 213.7h0M184.1 196.2h0M268.1 195.8h0M272.9 218.3h0M217.5 214.0h0M300.3 213.9h0M42.1 165.1h0M185.8 207.7h0M227.9 220.8h0M213.4 195.3h0M219.6 201.8h0M43.9 193.9h0M159.3 209.7h0M219.9 198.0h0M218.5 191.0h0M288.8 191.4h0M247.2 216.5h0M188.8 194.9h0M173.3 199.1h0M278.0 216.4h0M43.1 159.3h0M251.9 215.9h0M252.7 210.9h0M265.9 229.6h0M213.7 188.5h0M203.1 209.9h0M168.2 208.7h0M188.5 199.3h0M40.1 172.2h0M196.0 217.0h0M172.6 212.9h0M164.7 203.8h0M254.8 223.9h0M263.9 193.6h0M308.8 230.1h0M172.1 194.2h0M177.1 230.8h0M85.9 216.1h0M180.0 209.0h0M261.8 209.9h0M64.8 203.4h0M200.7 216.2h0M63.2 194.4h0M211.9 226.8h0M284.2 195.4h0M217.5 198.1h0M301.5 204.2h0M172.5 185.9h0M289.7 199.0h0M87.8 221.2h0M289.9 227.1h0M291.8 191.5h0M123.7 215.0h0M38.5 167.7h0M47.7 182.4h0M299.7 212.9h0M302.1 210.3h0M173.7 213.1h0M282.9 211.8h0M138.5 225.4h0M254.4 226.8h0M43.7 166.5h0M64.3 212.8h0M198.8 218.7h0M257.6 222.8h0M229.4 216.7h0M81.0 213.7h0M178.0 197.1h0M47.1 177.3h0M312.8 219.2h0M269.0 200.1h0M185.4 196.2h0M268.9 202.0h0M256.4 203.5h0M81.6 205.7h0M121.2 214.5h0M44.9 178.6h0M186.1 199.8h0M47.0 213.4h0M164.8 210.0h0M276.8 230.7h0M69.2 215.2h0M288.3 203.2h0M192.0 207.9h0M240.9 219.4h0M67.6 208.5h0M297.8 210.8h0M312.6 218.7h0M173.1 200.2h0M291.3 193.0h0M290.5 210.3h0M45.3 163.8h0M273.2 210.9h0M181.3 204.8h0M264.9 195.7h0M149.4 210.0h0M258.2 210.0h0M221.8 217.9h0M41.8 179.9h0M157.5 207.0h0M218.3 206.4h0M266.2 220.6h0M294.2 195.6h0M179.4 204.7h0M169.8 198.9h0M173.9 206.4h0M288.4 187.7h0M213.5 198.4h0M187.8 201.2h0M186.4 195.7h0M230.0 230.7h0M67.1 205.9h0M36.9 181.8h0M265.8 196.9h0M289.1 189.6h0M262.5 224.4h0M187.5 200.6h0M244.0 229.9h0M121.1 211.5h0M284.1 204.9h0M188.3 191.9h0M295.1 192.1h0M180.9 208.0h0M299.9 218.8h0M277.0 228.7h0M213.2 223.7h0M265.0 224.1h0M40.4 173.9h0M208.3 210.3h0M301.7 207.7h0M239.3 224.4h0M257.2 226.8h0M237.5 217.3h0M156.0 227.6h0M70.2 207.8h0M43.0 167.8h0M157.3 204.0h0M276.5 218.9h0M170.5 200.7h0M215.4 191.8h0M310.6 228.6h0M262.5 195.2h0M179.1 195.2h0M152.4 221.7h0M184.8 188.2h0M166.1 200.9h0M162.4 217.6h0M190.3 204.2h0M240.7 230.5h0M43.1 161.2h0M291.1 194.9h0M285.2 200.9h0M278.5 211.5h0M280.8 219.9h0M216.0 199.3h0M36.6 189.4h0M81.4 214.9h0M60.0 221.9h0M173.7 200.4h0M306.9 207.7h0M46.5 170.3h0M49.4 199.4h0M218.7 212.6h0M189.6 189.7h0M48.8 224.4h0M198.2 208.7h0M295.4 225.7h0M76.9 216.2h0M228.6 208.3h0M298.2 218.4h0M238.4 208.7h0M303.2 214.9h0M265.0 206.2h0M275.8 214.0h0M284.2 194.1h0M295.9 201.2h0M307.2 213.1h0M297.4 212.0h0M169.2 190.3h0M188.5 188.7h0M273.0 204.9h0M202.6 209.0h0M41.5 163.7h0M269.2 230.1h0M283.0 197.0h0M78.1 203.8h0M184.0 228.9h0M280.4 201.8h0M280.5 203.0h0M306.4 215.1h0M173.0 199.2h0M49.0 197.6h0M303.6 219.6h0M206.8 222.6h0M288.6 188.9h0M312.1 204.5h0M247.4 211.2h0M180.5 193.6h0M286.3 201.2h0M119.3 213.9h0M53.9 225.5h0M292.8 190.1h0M198.7 218.7h0M294.6 229.2h0M262.8 198.5h0M217.0 191.1h0M219.6 192.1h0M170.0 193.5h0M301.7 225.6h0M213.6 208.0h0M264.0 221.9h0M184.5 200.3h0M262.5 199.0h0M231.1 227.4h0M307.9 206.4h0M174.9 228.6h0M176.7 222.4h0M288.4 187.3h0M300.7 204.4h0M46.5 176.0h0M278.3 214.7h0M236.4 211.1h0M283.9 209.7h0M39.0 159.9h0M199.0 207.5h0M41.7 168.9h0M44.6 201.3h0M190.0 200.3h0M248.5 220.7h0M307.1 207.6h0M283.9 227.2h0M218.4 223.0h0M282.3 205.9h0M279.5 218.7h0M281.6 202.4h0M149.7 210.5h0M50.8 201.4h0M182.3 201.8h0M289.5 193.8h0M310.8 229.8h0M273.0 212.2h0M255.2 219.1h0M238.8 230.7h0M264.8 199.6h0M231.0 227.0h0M44.8 186.9h0M288.5 212.1h0M168.4 209.2h0M175.2 193.7h0M292.9 231.0h0M290.1 211.0h0M161.4 225.5h0M180.8 206.0h0M180.6 189.5h0M253.3 220.1h0M300.8 220.6h0M68.6 207.1h0M45.1 158.9h0M216.2 193.6h0M186.4 196.1h0M272.5 211.1h0M134.2 227.2h0M185.3 201.3h0M236.6 218.5h0M265.6 195.2h0M174.6 194.8h0M222.4 202.7h0M283.6 200.6h0M181.0 199.2h0M179.9 222.5h0M46.1 200.4h0M254.7 215.2h0M294.3 193.6h0M219.5 192.7h0M292.4 196.7h0M289.8 191.4h0M266.0 193.4h0M263.2 204.0h0M37.7 210.9h0M213.1 196.5h0M36.6 181.6h0M290.3 183.7h0M37.2 168.1h0M184.8 201.8h0M40.7 199.4h0M296.4 206.8h0M38.8 179.0h0M167.4 204.0h0M233.6 227.8h0M286.8 201.8h0M188.5 195.1h0M226.3 217.3h0M36.7 201.8h0M210.8 201.9h0M238.1 207.5h0M275.1 229.7h0M209.9 198.2h0M215.7 210.4h0M70.3 213.6h0M187.7 200.5h0M287.2 190.8h0M152.2 205.4h0M306.6 212.2h0M174.4 190.2h0M296.8 202.0h0M227.3 209.6h0M284.3 219.9h0M300.2 218.6h0M211.9 204.1h0M190.5 195.4h0M269.4 218.3h0M216.7 188.6h0M296.8 194.8h0M238.7 221.8h0M288.1 191.8h0M206.5 208.6h0M294.4 199.9h0M256.7 203.5h0M284.1 231.1h0M62.0 199.2h0M307.4 212.9h0M306.5 208.2h0M198.8 220.7h0M281.7 206.7h0M239.1 218.0h0M292.4 207.0h0M254.3 214.1h0M188.6 197.5h0M230.5 212.5h0M243.1 220.4h0M285.9 221.2h0M179.8 197.3h0M206.4 219.4h0M51.6 210.1h0M189.0 201.1h0M217.2 187.7h0M213.4 197.7h0M204.3 227.1h0M209.6 216.7h0M290.0 208.9h0M297.0 206.1h0M64.3 212.4h0M203.2 227.2h0M40.9 172.4h0M303.2 213.5h0M230.8 230.4h0M175.5 200.3h0M44.5 202.5h0M300.8 213.5h0M145.0 228.4h0M299.9 224.4h0M214.5 228.8h0M297.2 191.3h0M170.8 228.5h0M289.7 196.2h0M193.0 202.1h0M212.5 215.2h0M254.3 217.8h0M243.1 221.5h0M222.3 202.7h0M170.7 216.2h0M254.1 209.3h0M168.9 200.0h0M216.8 210.6h0M284.1 206.6h0M241.7 230.6h0M286.9 200.5h0M308.8 207.5h0M46.3 195.2h0M201.1 206.3h0M49.8 191.0h0M42.0 198.3h0M204.1 210.4h0M295.3 211.9h0M289.3 208.4h0M42.6 169.8h0M119.9 213.6h0M46.3 162.6h0M167.3 200.5h0M40.3 169.5h0M311.0 225.8h0M214.7 226.8h0M305.0 217.7h0M105.2 213.6h0M288.5 198.7h0M37.0 201.8h0M251.8 216.7h0M120.1 214.2h0M184.0 209.6h0M43.8 163.6h0M40.1 200.1h0M35.8 185.1h0M59.6 212.5h0M291.6 184.5h0M109.3 214.8h0M251.4 207.0h0M37.3 184.6h0M35.8 200.4h0M184.6 205.7h0M48.1 195.0h0M258.2 219.0h0M294.2 189.7h0M216.3 202.3h0M188.0 223.7h0M309.8 223.6h0M43.5 183.4h0M285.4 222.0h0M256.2 206.4h0M288.8 207.3h0M289.6 209.8h0M217.8 215.7h0M290.4 186.8h0M207.7 224.9h0M214.2 197.4h0M193.0 208.2h0M176.2 198.3h0M187.1 190.1h0M212.3 220.0h0M282.1 218.3h0M293.3 185.9h0M203.2 222.1h0M285.8 208.9h0M278.3 208.0h0M237.2 227.8h0M311.8 204.8h0M203.0 205.7h0M221.0 215.9h0M216.7 199.0h0M62.5 206.2h0M169.2 203.7h0M170.4 196.4h0M82.1 209.9h0M46.0 225.9h0M148.6 212.6h0M37.6 219.5h0M177.1 201.3h0M274.5 215.6h0M45.8 176.2h0M215.4 194.9h0M263.0 207.8h0M229.2 205.2h0M175.9 183.8h0M49.4 196.0h0M269.0 202.1h0M105.2 216.4h0M260.6 226.5h0M174.8 188.2h0M95.0 208.1h0M253.0 215.5h0M211.2 193.2h0M86.3 216.1h0M44.1 189.3h0M174.0 191.7h0M47.9 181.9h0M284.1 195.6h0M288.4 190.7h0M291.0 182.1h0M219.4 198.5h0M207.7 203.7h0M255.4 224.6h0M311.4 212.6h0M273.7 210.6h0M303.3 216.0h0M228.2 221.9h0M216.3 200.4h0M291.6 195.2h0M64.6 211.0h0M45.7 202.0h0M181.1 204.0h0M207.3 206.8h0M310.5 217.8h0M223.7 222.3h0M230.4 216.1h0M217.8 188.7h0M42.1 179.0h0M60.6 210.0h0M287.2 215.3h0M296.0 196.5h0M37.3 160.7h0M173.1 226.6h0M288.4 190.5h0M212.7 195.8h0M258.5 222.2h0M36.9 203.4h0M160.8 225.8h0M210.0 201.2h0M86.6 217.2h0M95.8 204.7h0M312.6 203.9h0M188.3 208.8h0M288.3 193.0h0M287.5 204.0h0M282.1 228.1h0M302.2 215.0h0M259.1 218.5h0M47.0 196.0h0M250.2 209.1h0M229.9 201.6h0M143.4 218.7h0M283.6 212.1h0M271.0 214.1h0M214.5 204.7h0M310.6 215.8h0M303.5 222.0h0M151.7 205.7h0M289.6 186.9h0M257.6 219.5h0M100.9 217.5h0M278.4 209.7h0M42.6 183.7h0M204.1 220.4h0M215.6 191.8h0M219.1 220.8h0M37.8 193.5h0M205.1 210.4h0M292.2 185.6h0M265.7 228.7h0M222.5 221.7h0M175.8 208.8h0M202.3 224.4h0M191.5 228.9h0M218.1 197.1h0M306.3 223.1h0M261.0 197.9h0M148.1 211.5h0M301.5 218.0h0M212.6 195.8h0M176.3 190.6h0M261.7 229.6h0M213.5 221.2h0M287.2 205.5h0M120.1 228.2h0M267.3 230.6h0M162.6 203.2h0M181.6 199.7h0M165.9 209.9h0M303.8 217.0h0M299.9 223.9h0M46.4 163.0h0M166.9 199.4h0M310.6 213.4h0M220.1 217.1h0M259.5 199.4h0M259.7 215.1h0M230.7 213.3h0M221.3 227.5h0M260.5 196.6h0M311.8 226.7h0M291.7 184.7h0M52.9 210.1h0M192.4 208.5h0M38.2 179.6h0M302.1 221.8h0M178.3 201.8h0M279.5 206.5h0M296.0 230.6h0M184.5 196.2h0M281.3 220.3h0M181.5 199.7h0M292.2 220.2h0M311.0 218.6h0M288.0 186.8h0M61.9 196.0h0M241.2 222.6h0M266.4 229.1h0M213.4 196.9h0M248.6 210.4h0M276.8 212.2h0M174.9 186.5h0M233.2 207.9h0M305.3 212.6h0M80.1 202.0h0M248.6 223.8h0M206.5 208.3h0M216.4 191.9h0M181.6 194.9h0M293.0 196.8h0M294.2 220.7h0M279.7 223.3h0M279.2 208.5h0M167.1 221.7h0M37.9 188.3h0M296.7 222.0h0M308.6 208.7h0M182.1 190.2h0M174.3 208.8h0M60.4 203.1h0M269.1 222.8h0M41.5 180.3h0M204.2 229.8h0M45.3 194.5h0M230.7 222.0h0M292.4 198.3h0M287.9 228.5h0M227.0 209.2h0M305.7 213.4h0M39.7 195.6h0M47.8 201.7h0M169.4 196.5h0M291.6 184.3h0M178.5 204.5h0M169.8 200.3h0M294.7 220.9h0M77.4 228.0h0M289.7 189.3h0M297.8 215.1h0M296.9 204.7h0M191.2 197.4h0M255.4 221.3h0M67.8 212.1h0M305.4 213.9h0M265.0 194.2h0M186.1 221.1h0M229.8 212.1h0M291.6 185.2h0M280.2 208.3h0M156.2 198.7h0M171.6 196.5h0M179.5 204.1h0M288.4 202.4h0M176.5 206.7h0M41.6 167.9h0M48.1 186.0h0M50.8 198.7h0M166.8 195.2h0M287.3 192.9h0M288.3 189.6h0M179.1 194.5h0M187.9 201.0h0M251.0 220.7h0M290.9 221.7h0M300.6 224.4h0M263.5 200.9h0M301.3 224.9h0M213.4 192.4h0M290.5 208.9h0M218.9 192.0h0M183.7 200.2h0M213.7 195.5h0M284.7 229.0h0M269.2 199.0h0M36.0 225.1h0M289.1 190.9h0M179.3 191.1h0M211.4 209.8h0M215.3 202.7h0M163.0 203.5h0M297.9 206.8h0M188.1 192.4h0M64.4 211.7h0M36.4 172.3h0M190.0 200.8h0M290.0 186.2h0M199.2 209.5h0M95.3 209.1h0M245.0 223.9h0M54.9 226.9h0M221.8 208.6h0M267.1 201.3h0M184.3 200.7h0M274.1 208.6h0M273.3 204.6h0M221.2 221.5h0M41.8 182.2h0M174.1 184.7h0M190.6 199.3h0M37.6 173.8h0M269.2 205.0h0M92.9 218.6h0M43.2 170.8h0M266.8 215.7h0M175.2 197.5h0M211.5 196.0h0M111.3 219.3h0M311.1 229.5h0M287.8 198.5h0M312.0 208.9h0M155.6 207.3h0M245.1 226.9h0M263.1 209.1h0M180.9 192.0h0M273.2 211.2h0M230.0 206.7h0M160.1 204.3h0M220.9 198.2h0M196.3 225.2h0M292.3 185.8h0M144.5 208.4h0M202.4 230.4h0M265.4 209.8h0M240.3 221.8h0M294.0 200.8h0M185.5 216.9h0M157.1 211.3h0M300.7 220.5h0M170.2 191.0h0M64.9 209.8h0M295.6 208.2h0M185.2 190.3h0M200.6 223.5h0M44.3 176.1h0M211.8 199.9h0M90.1 213.1h0M164.1 210.8h0M255.5 205.7h0M280.8 223.2h0M35.5 191.5h0M294.0 188.0h0M284.8 215.2h0M255.7 210.1h0M285.3 198.9h0M69.2 209.6h0M58.7 209.4h0M301.6 207.7h0M294.7 197.4h0M311.4 204.2h0M296.4 206.7h0M298.5 200.8h0M125.2 226.1h0M173.6 184.7h0M67.0 211.6h0M187.7 197.4h0M119.3 213.3h0M38.9 171.2h0M296.9 208.7h0M290.2 190.7h0M281.0 212.7h0M186.6 215.8h0M305.6 211.6h0M307.0 213.9h0M181.8 208.9h0M238.3 209.9h0M175.3 195.4h0M280.9 229.5h0M66.0 208.2h0M229.6 230.7h0M289.3 226.5h0M175.0 218.6h0M164.8 200.3h0M281.4 222.4h0M222.9 219.5h0M174.9 207.8h0M300.7 215.9h0M295.6 209.2h0M155.8 209.8h0M264.3 192.9h0M64.4 193.5h0M255.3 220.4h0M173.5 184.4h0M294.4 221.9h0M89.0 212.8h0M181.7 194.3h0M214.0 213.6h0M261.3 202.0h0M229.0 213.1h0M298.0 217.3h0M177.6 222.4h0M189.5 198.0h0M185.4 196.4h0M272.5 212.1h0M173.4 208.2h0M211.1 204.4h0M45.5 177.0h0M69.1 209.6h0M307.5 216.2h0M40.7 174.0h0M288.3 204.9h0M92.0 217.6h0M49.0 204.8h0M291.0 189.7h0M221.5 201.6h0M205.3 217.6h0M171.2 192.8h0M142.1 229.7h0M254.0 228.8h0M36.4 169.9h0M290.3 206.0h0M45.2 193.1h0M312.6 208.3h0M174.5 200.5h0M303.5 219.5h0M182.8 191.1h0M295.6 189.8h0M203.9 224.3h0M291.2 189.2h0M287.5 223.0h0M173.3 222.1h0M283.2 217.0h0M193.2 227.2h0M285.5 201.5h0M273.5 228.9h0M248.7 222.7h0M243.2 217.6h0M303.0 217.0h0M122.2 215.9h0M165.5 201.2h0M248.8 213.5h0M286.3 214.6h0M176.5 206.0h0M221.5 208.2h0M211.7 227.2h0M266.1 192.2h0M180.9 201.0h0M218.0 195.5h0M161.9 228.7h0M256.6 204.7h0M38.8 167.9h0M230.2 214.7h0M164.8 224.9h0M264.7 208.8h0M47.5 198.2h0M218.9 199.0h0M211.6 191.9h0M297.5 214.3h0M174.6 183.4h0M288.2 218.7h0M169.5 219.5h0M49.8 203.7h0M278.0 204.2h0M286.7 198.2h0M181.4 196.7h0M94.0 213.3h0M300.7 203.5h0M270.8 201.3h0M292.2 192.9h0M168.7 203.1h0M258.5 199.5h0M181.2 199.1h0M259.2 199.1h0M238.2 226.8h0M310.4 212.9h0M183.9 209.8h0M186.5 187.6h0M231.5 218.0h0M42.0 164.7h0M41.0 171.3h0M170.5 202.3h0M42.9 199.7h0M168.4 208.5h0M46.4 192.8h0M188.3 195.9h0M255.6 225.4h0M254.7 226.0h0M39.8 206.6h0M291.3 183.3h0M181.7 196.4h0M307.0 209.9h0M44.2 182.3h0M230.9 208.3h0M63.7 195.3h0" stroke="#c1121f" stroke-width="2.8" stroke-linecap="round" fill="none"/>
<rect x="196" y="224.6" width="117.30000000000001" height="6.6" fill="#073350"/>
<path d="M229.4 227.6h0M233.4 227.1h0M297.5 225.6h0M226.1 229.6h0M221.2 228.4h0M241.6 226.0h0M311.0 227.4h0M219.6 226.0h0M272.2 229.0h0M206.9 229.8h0M252.9 229.0h0M181.2 228.3h0M310.9 230.8h0M257.0 230.0h0M295.7 226.2h0M276.1 227.1h0M215.3 229.0h0M286.3 229.6h0M223.3 228.8h0M259.8 226.7h0M230.1 229.9h0M263.7 230.1h0M300.1 228.3h0M256.7 231.0h0M303.5 229.8h0M297.1 230.4h0M194.2 225.5h0M248.5 227.4h0M211.8 229.0h0M310.4 230.8h0M202.7 230.3h0M295.0 229.7h0M272.3 227.9h0M202.6 230.9h0M300.4 228.9h0M238.0 227.5h0M253.8 225.7h0M294.5 226.1h0M260.5 231.2h0M245.9 227.3h0M285.1 230.2h0M302.1 225.5h0M234.1 229.1h0M193.2 228.6h0M217.9 229.7h0M183.8 225.4h0M201.2 229.1h0M251.5 226.1h0M179.6 230.8h0M244.8 227.2h0M227.0 228.3h0M238.8 226.8h0M217.7 224.7h0M264.0 227.6h0M233.9 226.3h0M226.4 227.9h0M215.5 225.1h0M274.4 228.6h0M301.8 228.2h0M217.3 228.3h0M311.3 231.0h0M278.2 231.0h0M245.4 229.3h0M241.3 229.1h0M200.2 230.0h0M251.7 230.2h0M215.8 225.8h0M235.9 227.5h0M300.0 228.8h0M249.6 230.5h0M212.2 229.3h0M220.4 229.5h0M243.4 228.8h0M184.6 229.2h0M188.7 225.6h0M202.0 225.5h0M286.8 226.5h0M262.0 226.4h0M202.5 227.3h0M266.2 225.5h0M216.5 226.5h0M303.9 225.4h0M312.1 226.5h0M261.3 229.3h0M302.6 228.3h0M199.2 225.6h0M268.6 228.7h0M203.6 229.1h0M233.4 227.6h0M264.4 227.4h0M243.1 231.3h0M203.7 227.2h0M260.8 229.9h0M261.0 229.3h0M189.8 228.6h0M263.3 227.9h0M293.8 224.9h0M288.9 230.2h0M198.3 225.0h0M284.7 228.0h0M262.6 225.0h0M310.6 226.3h0M194.4 228.6h0M256.1 227.8h0M272.1 227.2h0M244.8 226.9h0M225.6 231.0h0M265.3 229.1h0M198.7 229.3h0M257.0 228.9h0M289.2 229.2h0M285.6 229.1h0M172.5 227.1h0M235.0 228.9h0M199.8 226.6h0M257.9 225.0h0M196.3 225.0h0M201.6 228.6h0M261.2 230.2h0M233.6 228.5h0M206.3 225.9h0M277.3 230.6h0M290.4 226.7h0M254.6 228.0h0M299.2 228.0h0M226.6 227.1h0M243.4 228.5h0M245.9 226.4h0M300.2 229.0h0M185.1 230.1h0M302.4 226.2h0M275.7 230.8h0M297.1 226.1h0M184.7 228.8h0M260.6 225.9h0M239.0 230.0h0M295.9 228.3h0M266.4 229.4h0M256.4 231.0h0M220.9 228.0h0M205.7 229.8h0M257.4 227.2h0M268.5 226.1h0M290.8 225.4h0M207.2 225.4h0M242.7 225.6h0M255.2 230.3h0M232.0 229.9h0M261.1 230.4h0M210.1 226.0h0M237.5 226.1h0M203.3 230.4h0M273.7 228.2h0M175.0 230.8h0M208.3 226.7h0M236.4 230.3h0M220.7 226.4h0M243.9 229.5h0M275.7 225.7h0M259.8 225.3h0M277.7 230.9h0M240.2 226.7h0M283.8 228.4h0M275.4 227.9h0M236.6 227.7h0M201.7 228.5h0M279.7 228.0h0M187.3 229.2h0M236.1 227.7h0M256.1 228.7h0M178.6 228.1h0M311.2 227.5h0M221.8 227.2h0M312.4 226.4h0M223.1 226.6h0M193.1 225.5h0M299.8 229.0h0M266.5 227.5h0M234.2 230.7h0M193.4 226.5h0M217.4 227.4h0M278.1 226.9h0M248.0 228.1h0M251.5 229.8h0M211.9 229.4h0M207.3 227.4h0M244.6 230.1h0M183.8 231.0h0M232.3 230.7h0M286.3 228.1h0M286.6 230.4h0M238.2 225.7h0M274.8 225.9h0M258.5 226.1h0M291.6 226.7h0M307.5 226.2h0M215.8 227.2h0M286.7 230.4h0M189.6 229.5h0M271.8 230.1h0M282.9 230.7h0M305.9 229.4h0M298.4 226.3h0M306.7 228.6h0M296.7 227.4h0M241.3 230.4h0M264.8 226.2h0M246.5 227.5h0M209.5 227.9h0M288.0 228.8h0M199.9 228.4h0M296.4 229.0h0M274.5 226.5h0M290.8 231.3h0M237.5 231.0h0M283.3 225.5h0M205.4 228.0h0M306.0 228.4h0M190.1 225.4h0M275.0 230.4h0M274.7 227.9h0M256.7 228.5h0M304.7 229.7h0M210.5 229.8h0M273.7 225.9h0M182.4 225.2h0M188.5 228.7h0M263.5 227.9h0M277.6 226.7h0M200.1 226.6h0M202.6 227.1h0M269.6 229.4h0M217.8 229.9h0M204.9 230.6h0M197.7 226.0h0M265.9 225.4h0M298.3 229.2h0M312.6 226.4h0M218.4 227.9h0M254.5 226.3h0M265.8 227.2h0M213.2 225.2h0M239.2 225.8h0M233.1 230.4h0M194.4 229.9h0M185.6 226.7h0M228.7 227.8h0M177.5 229.2h0M231.0 229.2h0M257.4 229.5h0M207.2 226.6h0M196.1 228.8h0M252.8 224.8h0M188.5 227.7h0M214.2 229.6h0M248.8 230.3h0M197.6 230.8h0M269.8 227.3h0M212.8 226.2h0M245.3 230.6h0M212.9 229.5h0M311.6 225.5h0M245.9 230.8h0M308.5 228.6h0M303.6 229.3h0M295.2 224.9h0M199.7 225.3h0M212.1 226.1h0M274.9 226.8h0M261.0 229.4h0M226.2 228.9h0M270.0 225.0h0M283.8 229.4h0M218.5 225.5h0M306.4 228.8h0M310.3 224.9h0M185.7 230.8h0M207.6 228.6h0M205.7 228.7h0M296.4 229.0h0M185.9 229.8h0M244.5 229.8h0M201.1 226.3h0M203.0 230.6h0M306.3 226.8h0M202.7 228.1h0M243.6 230.3h0M280.3 226.1h0M222.6 228.2h0M273.3 226.3h0M265.7 226.8h0M249.3 225.1h0M212.3 229.8h0M190.7 230.8h0M268.2 230.0h0M214.7 227.4h0M282.7 228.3h0M219.3 225.3h0M299.6 228.7h0M307.6 228.2h0M223.0 229.8h0M254.7 225.5h0M263.9 230.3h0M233.5 231.0h0M243.7 229.7h0M226.3 228.6h0M213.5 229.6h0M282.2 227.0h0M194.5 229.1h0M202.1 227.0h0M232.9 227.7h0M242.6 229.6h0M219.5 225.0h0M230.9 226.6h0M239.1 229.1h0M289.0 227.3h0M301.8 230.6h0M205.5 230.6h0M241.4 228.7h0M205.2 229.7h0M196.2 224.9h0M254.4 228.3h0M237.4 227.8h0M275.3 227.1h0M275.5 230.0h0M244.9 227.9h0M261.8 229.0h0M313.2 229.2h0M271.9 227.0h0M197.2 227.7h0M252.7 230.5h0M220.7 229.3h0M304.8 229.2h0M267.5 230.7h0M276.0 229.6h0M290.1 226.7h0M198.1 228.7h0M273.6 230.6h0M229.0 228.5h0M265.5 228.5h0M291.2 228.1h0M245.5 225.1h0M195.2 225.0h0M269.5 230.6h0M225.1 228.8h0M299.2 229.1h0M309.5 230.7h0M275.2 229.8h0M308.1 226.6h0M220.3 227.3h0M211.7 225.7h0M262.9 228.5h0M232.1 226.3h0M241.2 229.3h0" stroke="#073350" stroke-width="2.6" stroke-linecap="round" fill="none"/>
<polyline points="34.5,172.0 36.2,177.5 42.2,190.0 46.2,201.0 47.8,203.5 53.6,210.8 65.0,215.6 82.4,217.8 100.0,217.5 116.0,216.5 135.0,215.0 160.0,210.5 180.0,209.0 196.0,208.5 215.0,209.0 240.0,211.0 276.0,214.0 295.0,218.0 313.5,221.0" fill="none" stroke="#2a8f2a" stroke-width="1.3"/>
<polyline points="268.0,196.0 277.0,200.0 295.0,206.0 313.5,211.0" fill="none" stroke="#2a8f2a" stroke-width="1.3"/>
<polyline points="34.5,133.0 37.0,142.0 39.4,150.0 42.5,158.5 45.6,171.0 47.5,181.0 52.5,195.0 60.6,204.7 70.0,209.0 90.0,210.0 110.0,209.5 130.0,208.0 150.0,205.5 170.0,203.0 190.0,200.9 215.0,200.4 240.0,201.6 260.0,204.5 280.0,209.0 300.0,214.0 313.5,217.0" fill="none" stroke="#000" stroke-width="1.1" stroke-dasharray="3.9 1.55"/>
<polyline points="34.5,180.0 42.2,109.3 48.0,180.2 54.1,210.2 60.2,197.4 65.8,186.8 72.0,213.0 79.0,194.5 85.3,213.2 90.8,209.5 96.2,198.8 102.5,215.0 108.8,208.2 115.2,216.5 120.8,206.8 127.5,218.8 133.8,220.0 139.5,212.5 145.0,205.0 151.2,197.5 158.0,197.5 163.8,202.0 169.5,185.5 175.5,181.2 181.8,188.8 188.2,183.0 194.2,205.0 200.8,202.5 206.2,205.0 213.8,185.0 218.2,185.0 224.5,209.5 231.2,195.0 237.0,205.0 243.8,212.0 250.0,207.5 255.0,200.0 262.0,193.0 265.8,190.0 272.5,203.0 278.8,202.5 285.5,190.0 290.8,179.2 298.0,190.0 303.8,207.5 313.5,200.5" fill="none" stroke="#000" stroke-width="1.3" stroke-linejoin="round"/>
<path d="M34.5 180.0h0M42.2 109.3h0M48.0 180.2h0M54.1 210.2h0M60.2 197.4h0M65.8 186.8h0M72.0 213.0h0M79.0 194.5h0M85.3 213.2h0M90.8 209.5h0M96.2 198.8h0M102.5 215.0h0M108.8 208.2h0M115.2 216.5h0M120.8 206.8h0M127.5 218.8h0M133.8 220.0h0M139.5 212.5h0M145.0 205.0h0M151.2 197.5h0M158.0 197.5h0M163.8 202.0h0M169.5 185.5h0M175.5 181.2h0M181.8 188.8h0M188.2 183.0h0M194.2 205.0h0M200.8 202.5h0M206.2 205.0h0M213.8 185.0h0M218.2 185.0h0M224.5 209.5h0M231.2 195.0h0M237.0 205.0h0M243.8 212.0h0M250.0 207.5h0M255.0 200.0h0M262.0 193.0h0M265.8 190.0h0M272.5 203.0h0M278.8 202.5h0M285.5 190.0h0M290.8 179.2h0M298.0 190.0h0M303.8 207.5h0M313.5 200.5h0" stroke="#000" stroke-width="4" stroke-linecap="round" fill="none"/>
</g>
<path d="M34.40 231.6V11.2M34.40 231.6H313.30" fill="none" stroke="#a0a0a0" stroke-width="0.7"/>
<path d="M34.05 11.299999999999999H313.35V231.95" fill="none" stroke="#444" stroke-width="0.8"/>
<path d="M31.8 231.6h2.6M31.8 194.9h2.6M31.8 158.1h2.6M31.8 121.4h2.6M31.8 84.7h2.6M31.8 47.9h2.6M31.8 11.2h2.6M65.4 231.6v2.6M96.4 231.6v2.6M127.4 231.6v2.6M158.4 231.6v2.6M189.3 231.6v2.6M220.3 231.6v2.6M251.3 231.6v2.6M282.3 231.6v2.6M313.3 231.6v2.6" stroke="#777" stroke-width="0.6" fill="none"/>
<text x="31.5" y="234.9" text-anchor="end" class="tk">0.0</text>
<text x="31.5" y="198.2" text-anchor="end" class="tk">0.1</text>
<text x="31.5" y="161.4" text-anchor="end" class="tk">0.2</text>
<text x="31.5" y="124.7" text-anchor="end" class="tk">0.3</text>
<text x="31.5" y="88.0" text-anchor="end" class="tk">0.4</text>
<text x="31.5" y="51.2" text-anchor="end" class="tk">0.5</text>
<text x="31.5" y="14.5" text-anchor="end" class="tk">0.6</text>
<text x="65.4" y="243.0" text-anchor="middle" class="tk">20</text>
<text x="96.4" y="243.0" text-anchor="middle" class="tk">25</text>
<text x="127.4" y="243.0" text-anchor="middle" class="tk">30</text>
<text x="158.4" y="243.0" text-anchor="middle" class="tk">35</text>
<text x="189.3" y="243.0" text-anchor="middle" class="tk">40</text>
<text x="220.3" y="243.0" text-anchor="middle" class="tk">45</text>
<text x="251.3" y="243.0" text-anchor="middle" class="tk">50</text>
<text x="282.3" y="243.0" text-anchor="middle" class="tk">55</text>
<text x="313.3" y="243.0" text-anchor="middle" class="tk">60</text>
<text x="312.3" y="8.5" text-anchor="end" class="tt">138 fb<tspan dy="-3.9" font-size="7.6">−1</tspan><tspan dy="3.9"> (13 TeV)</tspan></text>
<text x="173.8" y="254.8" text-anchor="middle" class="lb"><tspan class="mi" style="stroke-width:0.12px">m</tspan><tspan class="mi" style="stroke-width:0.12px" dy="1.7" font-size="7.6">a</tspan><tspan dy="-1.7"> [GeV]</tspan></text>
<text transform="translate(9.9,188.95) rotate(-90)" class="mi" font-size="10.3"><tspan x="0">B</tspan><tspan x="7.65">(</tspan><tspan x="12.8">H</tspan><tspan x="20.7" dy="0.2" font-size="9.2" font-style="normal" style="stroke-width:0.4px">→</tspan><tspan x="28.5" dy="-0.2" font-size="10">a</tspan><tspan x="33.6" font-size="10">a</tspan><tspan x="39.1" dy="0.2" font-size="9.2" font-style="normal" style="stroke-width:0.4px">→</tspan><tspan x="48.4" dy="-0.2">μ</tspan><tspan x="58" dy="-4.8" font-size="5.6" font-style="normal">+</tspan><tspan x="65.4" dy="4.8">μ</tspan><tspan x="74.7" dy="-4.8" font-size="5.6" font-style="normal">−</tspan><tspan x="81.7" dy="4.8">b</tspan><tspan x="89.8">b</tspan><tspan x="97.1">)</tspan><tspan x="102.0" dy="-2.1" font-size="8.6" font-style="normal">×</tspan><tspan x="111.5" dy="2.1" font-style="normal">1</tspan><tspan x="118.1" font-style="normal">0</tspan><tspan x="126" dy="-4.8" font-size="5.6" font-style="normal">−</tspan><tspan x="131" dy="0.8" font-size="7.2" font-style="normal">3</tspan></text>
<path d="M1.5 99.0V94.3" stroke="#1a1a1a" stroke-width="0.8" fill="none"/>
<rect x="144.3" y="16.5" width="164.1" height="104.8" rx="2" fill="#fff" fill-opacity="0.8" stroke="#d4d4d4" stroke-width="0.9"/>
<path d="M148.1 24.0H169.1" stroke="#000" stroke-width="1.3"/><circle cx="158.6" cy="24.0" r="1.9"/>
<path d="M148.1 38.65H169.1" stroke="#000" stroke-width="1.3" stroke-dasharray="3.9 1.55"/>
<circle cx="158.6" cy="53.3" r="1.8" fill="#c6ccd4"/>
<circle cx="158.6" cy="67.95" r="1.8" fill="#c1121f"/>
<circle cx="158.6" cy="82.6" r="1.8" fill="#073350"/>
<rect x="148.29999999999998" y="93.85" width="20.6" height="6.8" fill="#3ccb43" stroke="#35b83c" stroke-width="0.5"/>
<rect x="148.29999999999998" y="108.50" width="20.6" height="6.8" fill="#ffde62" stroke="#ebcb58" stroke-width="0.5"/>
<text x="176.5" y="27.40" class="lg">Observed</text>
<text x="176.5" y="42.05" class="lg">Median expected</text>
<text x="176.5" y="56.70" class="lg">Allowed points from scan</text>
<text x="176.5" y="71.35" class="lg">Excluded by HB</text>
<text x="176.5" y="86.00" class="lg">Pass all</text>
<text x="176.5" y="100.65" class="lg">68% CL expected</text>
<text x="176.5" y="115.30" class="lg">95% CL expected</text>
<clipPath id="c1"><rect x="400.59999999999997" y="11.2" width="278.90000000000003" height="220.4"/></clipPath>
<g clip-path="url(#c1)">
<polygon points="400.7,-90.0 408.7,11.0 413.2,62.0 416.8,100.0 419.7,124.0 424.2,145.0 427.7,154.0 432.9,166.0 439.9,173.2 448.6,176.4 458.2,175.5 476.2,173.7 496.2,170.0 519.2,166.0 541.2,162.0 562.2,159.0 581.2,155.5 594.2,155.5 606.2,158.0 618.2,162.0 631.2,167.5 643.2,175.0 654.2,183.0 666.2,192.0 679.7,196.0 679.7,226.0 642.2,219.5 606.2,216.0 562.2,214.0 526.2,216.5 501.2,219.7 482.2,221.0 451.2,222.0 431.2,220.0 421.2,217.0 413.2,212.0 406.2,200.0 400.7,183.0" fill="#ffde62"/>
<polygon points="400.7,48.0 403.7,60.0 408.2,100.0 410.7,124.0 413.7,145.0 415.4,162.7 418.9,175.0 425.0,185.0 431.2,189.5 438.7,192.5 451.2,196.3 466.2,196.2 476.2,194.3 484.2,192.8 501.2,190.0 519.2,187.5 541.2,184.5 562.2,182.5 581.2,181.8 594.2,182.6 606.2,184.8 618.7,188.0 631.2,194.0 643.2,200.0 661.2,206.0 679.7,211.0 679.7,221.0 661.2,218.0 642.2,214.0 606.2,211.0 581.2,209.0 562.2,208.5 546.2,209.0 526.2,210.5 501.2,215.0 482.2,216.5 466.2,217.5 448.6,217.8 431.2,215.6 419.8,210.8 414.0,203.5 412.4,201.0 408.4,190.0 402.4,177.5 400.7,172.0" fill="#3ccb43"/>
<polygon points="400.6,193.0 401.1,193.0 401.6,193.0 402.1,193.0 402.6,193.0 403.1,193.0 403.6,193.0 404.1,193.0 404.6,193.0 405.1,193.0 405.6,193.0 406.1,193.0 406.6,193.0 407.1,193.0 407.6,193.0 408.1,193.0 408.6,193.0 409.1,193.0 409.6,193.0 410.1,193.0 410.6,193.0 411.1,193.0 411.6,193.0 412.1,193.0 412.6,193.0 413.1,193.0 413.6,193.0 414.1,193.0 414.6,193.0 415.1,193.0 415.6,189.0 416.1,189.5 416.6,192.0 417.1,194.5 417.6,196.9 418.1,199.4 418.6,201.8 419.1,204.3 419.6,206.8 420.1,209.2 420.6,209.6 421.1,208.5 421.6,207.5 422.1,206.4 422.6,205.4 423.1,204.3 423.6,203.3 424.1,202.2 424.6,201.2 425.1,200.1 425.6,199.1 426.1,198.0 426.6,197.0 427.1,196.1 427.6,195.1 428.1,194.2 428.6,193.2 429.1,192.3 429.6,191.3 430.1,190.4 430.6,189.4 431.1,188.5 431.6,187.6 432.1,187.2 432.6,189.3 433.1,191.4 433.6,193.6 434.1,195.7 434.6,197.8 435.1,199.9 435.6,202.0 436.1,204.1 436.6,206.2 437.1,208.4 437.6,210.5 438.1,212.6 438.6,211.9 439.1,210.6 439.6,209.3 440.1,208.0 440.6,206.7 441.1,205.3 441.6,204.0 442.1,202.7 442.6,201.4 443.1,200.0 443.6,198.7 444.1,197.4 444.6,196.1 445.1,194.8 445.6,195.7 446.1,197.2 446.6,198.7 447.1,200.1 447.6,201.6 448.1,203.1 448.6,204.6 449.1,206.1 449.6,207.6 450.1,209.0 450.6,210.5 451.1,212.0 451.6,213.1 452.1,212.8 452.6,212.5 453.1,212.1 453.6,211.8 454.1,211.4 454.6,211.1 455.1,210.8 455.6,210.4 456.1,210.1 456.6,209.7 457.1,209.2 457.6,208.2 458.1,207.3 458.6,206.3 459.1,205.3 459.6,204.3 460.1,203.3 460.6,202.4 461.1,201.4 461.6,200.4 462.1,199.4 462.6,199.1 463.1,200.4 463.6,201.7 464.1,203.0 464.6,204.3 465.1,205.6 465.6,206.9 466.1,208.2 466.6,209.5 467.1,210.8 467.6,212.1 468.1,213.4 468.6,214.7 469.1,214.6 469.6,214.0 470.1,213.5 470.6,212.9 471.1,212.4 471.6,211.9 472.1,211.3 472.6,210.8 473.1,210.2 473.6,209.7 474.1,209.2 474.6,208.6 475.1,208.4 475.6,209.1 476.1,209.7 476.6,210.4 477.1,211.0 477.6,211.6 478.1,212.3 478.6,212.9 479.1,213.6 479.6,214.2 480.1,214.8 480.6,215.5 481.1,216.1 481.6,216.1 482.1,215.3 482.6,214.4 483.1,213.5 483.6,212.6 484.1,211.8 484.6,210.9 485.1,210.0 485.6,209.1 486.1,208.2 486.6,207.4 487.1,207.0 487.6,207.9 488.1,208.8 488.6,209.7 489.1,210.6 489.6,211.5 490.1,212.4 490.6,213.2 491.1,214.1 491.6,215.0 492.1,215.9 492.6,216.8 493.1,217.7 493.6,218.6 494.1,218.8 492.2,231.6 400.59999999999997,231.6" fill="#c6ccd4"/>
<path d="M510.5 219.7h0M512.3 214.8h0M513.9 217.5h0M491.5 226.1h0M506.1 218.9h0M519.3 213.6h0M509.1 225.2h0M505.3 218.6h0M491.8 220.9h0M514.0 220.6h0M498.3 224.4h0M514.8 231.3h0M495.4 226.9h0M516.8 219.5h0M510.2 229.2h0M520.0 230.0h0M509.1 216.5h0M499.3 224.2h0M507.8 211.1h0M504.8 231.0h0M510.3 230.2h0M505.1 215.0h0M507.2 216.2h0M512.8 222.2h0M511.6 224.3h0M496.1 227.6h0M505.7 219.7h0M519.5 212.7h0M507.2 219.1h0M522.0 214.0h0M508.4 226.5h0M490.4 224.1h0M502.6 222.8h0M516.6 218.7h0M518.6 206.0h0M498.6 224.6h0M506.7 223.9h0M493.7 226.4h0M507.3 231.3h0M504.4 220.7h0M523.2 202.4h0M491.9 217.6h0M497.2 224.7h0M516.6 226.1h0M508.0 222.6h0M510.8 215.6h0M507.5 228.1h0M490.3 227.0h0M511.3 223.8h0M508.2 220.5h0M493.5 220.9h0M524.4 214.2h0M505.0 226.6h0M491.0 228.7h0M517.7 219.6h0M490.3 216.9h0" stroke="#c6ccd4" stroke-width="2.6" stroke-linecap="round" fill="none"/>
<path d="M408.3 187.2h0M414.1 187.0h0M411.1 189.5h0M411.9 193.9h0M413.9 190.1h0M408.9 193.9h0M410.6 188.7h0M410.4 189.0h0M408.4 190.0h0M410.5 190.6h0M411.3 193.9h0M414.2 192.1h0M402.2 187.8h0M406.4 187.1h0M404.1 189.6h0M411.3 186.1h0M404.6 186.7h0M402.3 189.0h0M414.1 190.8h0M404.6 190.3h0M403.8 187.2h0M410.9 186.7h0M413.4 193.6h0M412.4 191.3h0M414.9 190.4h0M412.8 186.5h0M406.4 189.2h0M401.9 191.9h0M405.1 191.2h0M412.9 189.4h0M402.6 188.9h0M403.8 186.1h0M404.0 190.3h0M404.9 191.7h0M411.2 188.1h0M410.6 187.1h0M403.9 190.4h0M409.4 188.0h0M405.8 187.3h0M408.4 187.2h0M409.1 187.1h0M413.4 188.6h0M415.1 186.4h0M410.2 192.2h0M402.2 186.8h0M402.2 187.4h0M411.4 186.7h0M408.4 190.2h0M413.1 190.3h0M411.7 191.8h0M411.3 193.7h0M404.6 192.5h0M403.9 192.6h0M403.5 189.0h0M415.9 192.2h0M406.0 187.6h0M406.4 190.4h0M409.1 188.1h0M406.3 189.0h0" stroke="#c6ccd4" stroke-width="2.8" stroke-linecap="round" fill="none"/>
<polygon points="526.6,199.4 527.1,199.8 527.6,200.2 528.1,200.6 528.6,200.9 529.1,201.3 529.6,201.7 530.1,201.6 530.6,200.1 531.1,198.7 531.6,197.3 532.1,195.8 532.6,194.4 533.1,193.0 533.6,191.5 534.1,190.1 534.6,188.7 535.1,187.2 535.6,185.8 536.1,185.2 536.6,184.9 537.1,184.5 537.6,184.2 538.1,183.8 538.6,183.4 539.1,183.1 539.6,182.7 540.1,182.4 540.6,182.0 541.1,181.7 541.6,181.3 542.1,181.7 542.6,182.3 543.1,182.9 543.6,183.5 544.1,184.1 544.6,184.7 545.1,185.3 545.6,185.9 546.1,186.5 546.6,187.1 547.1,187.7 547.6,188.3 548.1,188.6 548.6,188.2 549.1,187.7 549.6,187.3 550.1,186.8 550.6,186.4 551.1,186.0 551.6,185.5 552.1,185.1 552.6,184.6 553.1,184.2 553.6,183.8 554.1,183.3 554.6,183.6 555.1,185.4 555.6,187.3 556.1,189.1 556.6,190.9 557.1,192.8 557.6,194.6 558.1,196.5 558.6,198.3 559.1,200.2 559.6,202.0 559.6,203.0 559.1,203.0 558.6,203.0 558.1,203.0 557.6,203.0 557.1,203.0 556.6,203.0 556.1,203.0 555.6,203.0 555.1,203.0 554.6,203.0 554.1,203.0 553.6,203.0 553.1,203.0 552.6,203.0 552.1,203.0 551.6,203.0 551.1,203.0 550.6,203.0 550.1,203.0 549.6,203.0 549.1,203.0 548.6,203.0 548.1,203.0 547.6,203.0 547.1,203.0 546.6,203.0 546.1,203.0 545.6,203.0 545.1,203.0 544.6,203.0 544.1,203.0 543.6,203.0 543.1,203.0 542.6,203.0 542.1,203.0 541.6,203.0 541.1,203.0 540.6,203.0 540.1,203.0 539.6,203.0 539.1,203.0 538.6,203.0 538.1,203.0 537.6,203.0 537.1,203.0 536.6,203.0 536.1,203.0 535.6,203.0 535.1,203.0 534.6,203.0 534.1,203.0 533.6,203.0 533.1,203.0 532.6,203.0 532.1,203.0 531.6,203.0 531.1,203.0 530.6,203.0 530.1,203.0 529.6,203.0 529.1,203.0 528.6,203.0 528.1,203.0 527.6,203.0 527.1,203.0 526.6,203.0" fill="#c1121f"/>
<polygon points="574.6,199.3 575.1,197.9 575.6,196.6 576.1,195.3 576.6,193.9 577.1,192.6 577.6,191.3 578.1,189.9 578.6,188.6 579.1,187.3 579.6,185.9 580.1,185.0 580.6,185.0 581.1,185.0 581.6,185.0 582.1,185.0 582.6,185.0 583.1,185.0 583.6,185.0 584.1,185.0 584.6,185.6 585.1,187.5 585.6,189.5 586.1,191.5 586.6,193.4 587.1,195.4 587.6,197.3 588.1,199.3 588.1,201.0 587.6,201.0 587.1,201.0 586.6,201.0 586.1,201.0 585.6,201.0 585.1,201.0 584.6,201.0 584.1,201.0 583.6,201.0 583.1,201.0 582.6,201.0 582.1,201.0 581.6,201.0 581.1,201.0 580.6,201.0 580.1,201.0 579.6,201.0 579.1,201.0 578.6,201.0 578.1,201.0 577.6,201.0 577.1,201.0 576.6,201.0 576.1,201.0 575.6,201.0 575.1,201.0 574.6,201.0" fill="#c1121f"/>
<polygon points="595.1,200.0 595.6,199.0 596.1,197.9 596.6,196.8 597.1,195.8 597.6,195.3 598.1,196.1 598.6,197.0 599.1,197.9 599.6,198.7 600.1,199.6 600.6,200.5 600.6,201.0 600.1,201.0 599.6,201.0 599.1,201.0 598.6,201.0 598.1,201.0 597.6,201.0 597.1,201.0 596.6,201.0 596.1,201.0 595.6,201.0 595.1,201.0" fill="#c1121f"/>
<polygon points="621.1,200.1 621.6,199.6 622.1,199.1 622.6,198.6 623.1,198.1 623.6,197.6 624.1,197.1 624.6,196.6 625.1,196.1 625.6,195.6 626.1,195.1 626.6,194.6 627.1,194.1 627.6,193.6 628.1,193.1 628.6,192.7 629.1,192.3 629.6,191.9 630.1,191.5 630.6,191.1 631.1,190.7 631.6,190.3 632.1,190.3 632.6,191.3 633.1,192.2 633.6,193.2 634.1,194.1 634.6,195.1 635.1,196.1 635.6,197.0 636.1,198.0 636.6,199.0 637.1,199.9 637.1,201.2 636.6,201.1 636.1,201.0 635.6,201.0 635.1,201.0 634.6,201.0 634.1,201.0 633.6,201.0 633.1,201.0 632.6,201.0 632.1,201.0 631.6,201.0 631.1,201.0 630.6,201.0 630.1,201.0 629.6,201.0 629.1,201.0 628.6,201.0 628.1,201.0 627.6,201.0 627.1,201.0 626.6,201.0 626.1,201.0 625.6,201.0 625.1,201.0 624.6,201.0 624.1,201.0 623.6,201.0 623.1,201.0 622.6,201.0 622.1,201.0 621.6,201.0 621.1,201.0" fill="#c1121f"/>
<polygon points="645.6,201.3 646.1,200.4 646.6,199.4 647.1,198.5 647.6,197.6 648.1,196.7 648.6,195.7 649.1,194.8 649.6,193.9 650.1,193.0 650.6,192.0 651.1,191.1 651.6,190.2 652.1,189.2 652.6,188.2 653.1,187.1 653.6,186.1 654.1,185.1 654.6,184.1 655.1,183.0 655.6,182.0 656.1,181.0 656.6,180.0 657.1,179.5 657.6,180.2 658.1,181.0 658.6,181.7 659.1,182.4 659.6,183.2 660.1,183.9 660.6,184.7 661.1,185.4 661.6,186.1 662.1,186.9 662.6,187.6 663.1,188.4 663.6,189.1 664.1,189.9 664.6,191.2 665.1,192.7 665.6,194.3 666.1,195.8 666.6,197.3 667.1,198.8 667.6,200.3 668.1,201.9 668.6,203.4 669.1,204.9 669.1,206.7 668.6,206.6 668.1,206.5 667.6,206.4 667.1,206.3 666.6,206.2 666.1,206.2 665.6,206.1 665.1,206.0 664.6,205.9 664.1,205.8 663.6,205.7 663.1,205.6 662.6,205.6 662.1,205.5 661.6,205.4 661.1,205.3 660.6,205.2 660.1,205.1 659.6,205.0 659.1,204.9 658.6,204.9 658.1,204.8 657.6,204.7 657.1,204.6 656.6,204.5 656.1,204.4 655.6,204.3 655.1,204.3 654.6,204.2 654.1,204.1 653.6,204.0 653.1,203.9 652.6,203.8 652.1,203.7 651.6,203.7 651.1,203.6 650.6,203.5 650.1,203.4 649.6,203.3 649.1,203.2 648.6,203.1 648.1,203.1 647.6,203.0 647.1,202.9 646.6,202.8 646.1,202.7 645.6,202.6" fill="#c1121f"/>
<polygon points="671.6,206.3 672.1,206.0 672.6,205.6 673.1,205.2 673.6,204.9 674.1,204.5 674.6,204.2 675.1,203.8 675.6,203.4 676.1,203.1 676.6,202.7 677.1,202.4 677.6,202.0 678.1,201.6 678.6,201.3 679.1,200.9 679.1,208.4 678.6,208.3 678.1,208.2 677.6,208.1 677.1,208.1 676.6,208.0 676.1,207.9 675.6,207.8 675.1,207.7 674.6,207.6 674.1,207.5 673.6,207.4 673.1,207.4 672.6,207.3 672.1,207.2 671.6,207.1" fill="#c1121f"/>
<path d="M608.3 219.9h0M677.9 225.8h0M547.1 193.0h0M595.1 202.2h0M538.5 193.8h0M597.7 198.7h0M519.1 201.3h0M659.1 200.6h0M653.4 188.2h0M657.2 221.0h0M545.4 203.0h0M658.3 197.0h0M560.0 225.2h0M545.6 198.5h0M653.6 202.0h0M596.7 210.5h0M553.7 192.7h0M656.3 183.2h0M436.4 212.7h0M657.9 183.9h0M522.3 204.5h0M555.0 223.8h0M659.2 203.0h0M623.1 207.8h0M572.9 226.4h0M538.3 200.4h0M672.5 228.3h0M581.5 198.2h0M661.0 209.4h0M611.5 217.5h0M675.0 227.6h0M652.2 201.4h0M650.2 226.6h0M543.1 222.7h0M423.7 209.7h0M650.5 227.5h0M668.9 209.4h0M546.0 190.2h0M551.0 202.0h0M661.6 191.6h0M653.9 218.5h0M678.2 206.3h0M552.4 199.5h0M659.2 194.3h0M664.6 206.0h0M554.6 194.0h0M614.1 225.2h0M670.5 215.2h0M622.6 225.8h0M633.4 194.1h0M650.7 204.0h0M610.2 215.7h0M656.1 183.4h0M653.3 200.5h0M576.2 201.2h0M668.2 227.7h0M647.2 229.3h0M612.5 217.6h0M522.1 206.2h0M548.3 192.6h0M528.7 206.4h0M622.1 227.0h0M404.3 170.8h0M430.9 207.9h0M538.4 196.4h0M671.8 217.2h0M545.5 197.2h0M580.2 186.3h0M674.8 222.9h0M657.2 203.4h0M662.0 191.0h0M616.0 218.6h0M651.8 200.2h0M412.2 163.0h0M657.2 223.6h0M444.5 207.1h0M580.5 190.8h0M528.7 213.5h0M517.2 202.7h0M559.5 205.2h0M661.2 197.2h0M613.3 227.5h0M546.3 201.2h0M619.7 217.3h0M581.8 197.1h0M611.5 228.1h0M541.3 200.1h0M649.5 208.0h0M554.3 201.5h0M649.7 224.8h0M585.9 195.5h0M670.8 223.4h0M671.9 221.0h0M545.2 208.5h0M558.5 201.4h0M412.0 199.0h0M412.1 165.3h0M553.8 201.3h0M402.8 189.1h0M537.7 202.8h0M648.8 228.2h0M603.4 216.8h0M547.9 193.2h0M632.4 197.5h0M574.1 203.0h0M518.7 198.9h0M448.2 209.6h0M629.7 194.9h0M403.3 163.3h0M540.3 200.5h0M626.0 196.5h0M661.0 219.0h0M649.6 204.8h0M659.9 198.0h0M581.8 193.9h0M674.8 218.6h0M664.8 200.1h0M659.7 191.6h0M534.3 192.8h0M543.3 204.3h0M401.6 184.3h0M529.4 208.3h0M656.6 194.8h0M661.4 226.3h0M549.8 191.7h0M671.6 228.1h0M629.4 193.9h0M409.0 173.4h0M650.7 199.9h0M429.5 210.8h0M583.6 193.5h0M555.0 188.6h0M540.9 193.3h0M664.8 205.3h0M607.2 218.0h0M659.5 186.5h0M558.6 200.3h0M658.8 219.0h0M550.9 192.5h0M407.6 173.6h0M629.7 227.2h0M660.3 201.1h0M582.2 202.1h0M583.7 202.3h0M540.6 186.2h0M641.0 208.2h0M653.1 221.0h0M533.3 198.2h0M581.0 198.5h0M581.4 211.6h0M474.2 219.1h0M641.3 226.8h0M597.1 204.3h0M660.0 185.5h0M650.5 194.0h0M448.9 216.8h0M539.3 192.6h0M540.2 191.8h0M645.4 224.4h0M581.8 221.1h0M407.2 176.7h0M637.2 201.6h0M629.4 214.4h0M642.5 214.0h0M536.2 202.0h0M658.2 230.2h0M655.8 188.0h0M541.8 210.1h0M658.6 204.3h0M596.1 200.2h0M608.6 223.8h0M588.1 200.8h0M608.5 215.4h0M553.9 188.1h0M408.9 193.8h0M669.1 225.2h0M582.5 188.7h0M545.9 204.0h0M517.3 218.8h0M541.3 186.6h0M625.0 225.1h0M614.2 228.4h0M662.8 190.6h0M658.2 182.3h0M539.6 194.4h0M563.3 205.8h0M584.5 189.4h0M600.4 210.5h0M534.8 196.4h0M659.9 186.3h0M660.4 194.6h0M547.4 194.6h0M546.2 209.3h0M649.9 214.7h0M402.3 221.4h0M557.1 207.6h0M534.4 205.8h0M575.9 217.6h0M662.3 190.7h0M528.7 205.0h0M655.6 195.3h0M674.4 227.8h0M656.0 221.0h0M653.8 208.0h0M648.7 229.4h0M404.5 169.8h0M408.0 159.9h0M631.4 197.5h0M622.8 200.2h0M621.7 209.2h0M530.6 202.2h0M579.2 196.1h0M647.5 208.9h0M643.8 227.9h0M448.7 213.4h0M537.9 195.6h0M647.1 203.9h0M595.9 201.5h0M649.2 229.7h0M658.8 227.9h0M648.7 219.7h0M655.0 203.6h0M671.6 228.6h0M633.9 219.0h0M540.3 197.6h0M598.3 221.8h0M575.8 202.3h0M605.4 209.9h0M623.4 220.3h0M658.7 211.6h0M583.1 206.5h0M588.4 214.7h0M545.4 196.4h0M410.1 175.7h0M541.2 191.9h0M568.1 224.4h0M651.8 197.5h0M412.0 174.0h0M660.0 188.0h0M444.1 200.4h0M666.1 219.8h0M551.6 190.6h0M557.7 201.2h0M659.1 220.9h0M644.7 219.3h0M625.6 207.6h0M648.3 199.5h0M548.2 191.5h0M544.0 195.0h0M636.5 206.8h0M658.4 199.7h0M654.2 198.8h0M625.7 226.0h0M602.8 211.0h0M666.2 218.2h0M541.3 185.5h0M653.5 214.4h0M521.9 224.6h0M632.2 207.1h0M663.2 198.3h0M551.2 202.8h0M662.9 218.5h0M578.4 190.5h0M622.6 212.9h0M412.1 188.4h0M656.2 198.2h0M410.7 193.6h0M534.9 208.4h0M649.7 208.3h0M442.9 214.3h0M561.1 226.7h0M543.0 195.0h0M436.6 214.9h0M637.9 213.7h0M625.4 199.9h0M585.4 228.6h0M648.9 196.5h0M652.1 205.6h0M677.7 227.4h0M654.9 226.5h0M666.5 200.6h0M579.9 187.6h0M669.2 220.6h0M554.3 191.7h0M646.6 203.2h0M603.6 230.5h0M657.8 193.6h0M639.8 223.2h0M656.6 203.2h0M665.7 227.0h0M407.4 185.1h0M435.2 202.3h0M665.7 223.4h0M549.0 194.5h0M659.2 194.7h0M665.4 203.5h0M658.6 200.1h0M586.3 213.7h0M578.3 191.4h0M647.4 227.1h0M629.6 211.9h0M664.9 225.0h0M573.8 211.0h0M413.0 218.7h0M626.6 205.6h0M659.2 192.8h0M673.4 208.9h0M674.1 207.3h0M580.8 186.9h0M574.2 215.0h0M667.3 209.3h0M409.9 196.7h0M534.2 199.9h0M629.7 224.2h0M667.0 203.3h0M645.6 203.1h0M623.8 226.3h0M578.6 201.7h0M437.0 225.6h0M666.5 198.8h0M655.8 203.9h0M576.0 212.7h0M625.3 198.4h0M550.4 205.8h0M411.7 172.3h0M667.0 209.2h0M663.4 212.4h0M634.3 208.8h0M636.4 205.0h0M601.5 225.5h0M599.1 204.4h0M654.3 213.3h0M416.8 219.2h0M532.1 203.5h0M661.8 207.5h0M673.4 226.3h0M401.7 190.5h0M624.6 230.0h0M653.7 193.8h0M641.2 221.9h0M636.0 216.6h0M632.4 198.2h0M649.7 216.5h0M671.6 224.5h0M653.2 189.4h0M664.0 228.4h0M654.3 213.9h0M539.0 197.1h0M655.5 202.0h0M629.5 215.8h0M674.8 229.2h0M635.8 207.2h0M601.7 224.1h0M633.2 229.7h0M556.3 192.5h0M664.9 225.7h0M651.4 201.0h0M641.0 204.3h0M654.3 218.9h0M634.7 198.3h0M551.9 194.3h0M537.7 199.7h0M656.6 194.4h0M545.3 204.5h0M597.5 220.7h0M661.8 213.3h0M654.9 215.4h0M625.6 198.7h0M630.8 218.0h0M617.5 216.3h0M627.9 209.6h0M622.7 227.6h0M528.4 209.9h0M657.0 191.2h0M557.7 197.7h0M535.9 201.7h0M612.2 227.0h0M546.7 193.1h0M544.9 187.4h0M543.4 193.7h0M546.8 203.3h0M655.6 230.7h0M554.7 200.4h0M631.9 209.8h0M585.4 190.4h0M659.2 230.1h0M629.6 216.4h0M511.9 218.8h0M470.5 216.3h0M624.2 203.4h0M537.9 190.5h0M629.6 197.8h0M647.9 223.0h0M432.9 224.0h0M566.1 207.5h0M538.3 190.3h0M405.8 198.4h0M646.3 213.2h0M562.2 225.4h0M529.9 210.8h0M538.5 192.5h0M669.8 218.0h0M633.3 195.4h0M541.4 201.3h0M538.1 205.5h0M582.1 213.7h0M619.7 215.4h0M581.7 194.1h0M461.0 205.2h0M665.3 218.7h0M523.8 217.6h0M658.3 222.5h0M653.9 200.0h0M644.5 218.6h0M586.4 197.4h0M629.3 230.0h0M576.1 198.7h0M402.9 171.6h0M609.6 228.2h0M666.0 206.6h0M550.6 204.3h0M577.7 202.6h0M624.0 218.8h0M647.7 206.0h0M636.3 200.8h0M655.1 187.5h0M580.6 194.4h0M621.2 207.6h0M540.1 201.3h0M537.3 195.9h0M414.2 214.9h0M577.4 219.4h0M655.8 194.3h0M676.2 209.3h0M653.7 194.1h0M512.7 209.1h0M669.0 207.1h0M544.3 209.1h0M536.7 216.0h0M423.8 208.7h0M598.3 210.6h0M574.3 205.9h0M674.4 207.9h0M661.8 224.2h0M404.2 178.0h0M581.6 187.7h0M529.4 230.7h0M583.8 200.3h0M631.1 193.7h0M585.9 201.1h0M583.9 191.5h0M633.6 199.4h0M526.2 210.9h0M440.9 216.1h0M541.5 187.8h0M544.9 199.9h0M545.6 191.6h0M660.8 207.0h0M655.3 202.2h0M551.9 190.9h0M662.5 200.7h0M645.3 203.2h0M671.7 219.1h0M574.8 221.8h0M667.1 224.9h0M666.6 203.6h0M592.0 213.9h0M663.0 204.4h0M666.2 197.9h0M552.0 195.3h0M405.2 180.4h0M600.9 214.0h0M599.0 203.8h0M629.3 211.7h0M633.2 209.9h0M531.4 202.2h0M629.0 206.4h0M470.3 215.5h0M667.7 211.0h0M581.9 187.7h0M627.5 197.1h0M613.7 226.1h0M402.0 180.3h0M408.1 191.2h0M543.4 184.8h0M538.8 203.4h0M582.8 191.2h0M631.7 211.7h0M581.8 191.5h0M404.5 184.9h0M633.0 204.2h0M614.4 213.7h0M660.3 192.7h0M540.9 229.7h0M635.3 199.7h0M616.2 218.7h0M581.7 187.2h0M549.9 208.8h0M662.2 201.7h0M588.6 220.7h0M678.2 225.6h0M569.1 231.1h0M644.1 218.9h0M571.9 209.4h0M654.4 227.6h0M633.4 214.8h0M529.5 223.4h0M554.1 201.1h0M574.8 203.5h0M604.9 216.4h0M653.7 207.5h0M677.9 208.1h0M647.3 226.6h0M585.1 192.6h0M589.7 219.4h0M655.4 213.1h0M678.3 206.0h0M657.5 224.0h0M555.6 190.9h0M406.0 168.5h0M631.8 193.3h0M583.0 213.9h0M449.8 228.5h0M637.0 222.0h0M629.6 203.3h0M430.9 190.6h0M629.7 227.6h0M579.7 196.1h0M583.0 192.4h0M584.3 208.2h0M641.5 213.3h0M672.6 217.5h0M635.1 203.4h0M579.7 197.1h0M660.0 197.7h0M540.6 186.2h0M548.8 200.0h0M654.7 194.2h0M641.5 215.3h0M644.4 209.3h0M647.3 225.5h0M409.4 211.3h0M543.4 191.1h0M642.9 226.5h0M630.5 209.3h0M658.2 220.3h0M547.4 203.7h0M530.2 208.4h0M639.9 221.8h0M659.4 187.4h0M410.4 195.5h0M559.6 227.2h0M580.0 193.4h0M545.2 203.0h0M660.9 194.6h0M582.4 198.7h0M594.6 211.0h0M666.3 205.3h0M569.6 219.8h0M668.5 206.3h0M633.4 195.8h0M636.4 210.0h0M570.4 218.7h0M537.5 186.5h0M665.8 226.7h0M622.8 221.2h0M556.4 195.2h0M661.5 191.1h0M666.9 207.7h0M654.5 190.2h0M408.2 162.7h0M661.3 212.9h0M522.2 202.2h0M662.7 195.4h0M581.3 187.6h0M540.9 186.7h0M654.9 211.6h0M650.4 205.7h0M615.7 217.7h0M551.9 192.5h0M540.9 193.5h0M666.8 207.3h0M527.1 203.8h0M412.8 179.3h0M544.9 204.4h0M592.3 230.4h0M595.1 206.1h0M630.2 200.4h0M649.7 228.5h0M670.9 217.6h0M655.9 202.8h0M602.5 221.4h0M557.8 198.5h0M661.6 206.6h0M553.9 194.2h0M411.3 160.4h0M546.1 202.3h0M583.6 194.8h0M678.9 215.7h0M587.4 200.2h0M635.6 229.2h0M570.1 217.6h0M645.4 205.1h0M626.5 226.4h0M664.4 228.1h0M654.9 192.0h0M568.3 216.4h0M533.5 193.9h0M528.9 210.0h0M627.8 219.6h0M550.0 188.9h0M597.9 197.4h0M648.9 203.0h0M406.5 167.2h0M410.2 166.2h0M542.0 198.6h0M522.2 210.6h0M625.4 212.4h0M626.9 225.1h0M583.3 190.3h0M583.0 217.1h0M639.2 210.1h0M582.8 220.5h0M558.1 197.6h0M586.2 203.6h0M414.8 200.2h0M662.8 192.5h0M615.0 214.2h0M629.0 198.7h0M657.4 195.5h0M602.7 206.2h0M583.6 196.9h0M534.0 204.5h0M624.0 207.7h0M667.7 205.5h0M666.0 221.4h0M541.3 230.5h0M430.4 193.6h0M544.4 196.9h0M534.9 190.8h0M482.8 230.5h0M402.8 175.3h0M660.8 220.3h0M659.1 202.2h0M643.4 206.0h0M589.8 207.2h0M405.7 166.0h0M482.0 218.8h0M614.6 220.3h0M664.1 230.6h0M402.8 172.1h0M454.9 217.3h0M676.5 207.2h0M642.1 226.6h0M617.9 230.5h0M581.6 224.7h0M415.8 196.3h0M648.8 213.9h0M532.5 200.1h0M532.8 205.8h0M651.6 223.0h0M406.7 186.6h0M554.1 200.5h0M599.5 216.9h0M615.8 209.6h0M555.5 195.7h0M615.6 210.0h0M648.9 208.9h0M578.1 209.7h0M675.0 230.6h0M623.7 201.2h0M412.5 180.5h0M553.0 198.4h0M672.3 214.9h0M656.2 186.9h0M570.7 221.8h0M653.4 229.0h0M576.0 197.8h0M578.4 208.2h0M556.2 207.7h0M585.9 200.0h0M543.1 196.5h0M410.8 182.8h0M668.0 207.4h0M628.8 216.1h0M628.1 202.7h0M657.3 217.1h0M404.1 168.9h0M654.1 192.7h0M408.5 217.5h0M581.8 189.7h0M665.0 206.9h0M669.5 225.6h0M582.4 201.3h0M555.9 191.8h0M649.0 208.5h0M539.1 193.5h0M555.7 202.1h0M553.9 196.1h0M538.5 189.1h0M655.7 191.8h0M674.0 224.4h0M538.3 185.9h0M602.6 206.3h0M674.3 229.8h0M553.7 202.6h0M541.8 221.4h0M666.1 228.9h0M633.2 196.1h0M615.2 210.4h0M635.2 222.7h0M642.2 215.7h0M531.8 208.5h0M543.5 187.7h0M673.7 209.8h0M557.9 212.6h0M581.0 201.9h0M540.9 186.3h0M540.0 204.5h0M632.8 229.8h0M551.3 206.9h0M585.5 202.1h0M627.0 201.4h0M571.5 225.5h0M659.5 205.6h0M652.2 225.7h0M611.4 217.2h0M538.5 193.1h0M656.3 196.9h0M506.0 228.6h0M563.6 205.3h0M648.2 219.3h0M582.4 230.5h0M648.3 211.5h0M582.3 226.9h0M551.6 190.1h0M530.7 202.9h0M567.8 225.4h0M542.5 200.6h0M629.8 210.2h0M627.8 213.7h0M629.8 195.5h0M666.4 202.3h0M406.5 181.8h0M571.3 211.9h0M654.5 192.2h0M547.9 190.9h0M675.7 226.7h0M650.8 203.6h0M412.0 162.3h0M549.0 202.8h0M580.3 193.4h0M581.7 193.2h0M587.3 224.7h0M544.6 223.7h0M662.1 216.1h0M578.7 198.8h0M587.1 199.8h0M630.4 210.0h0M551.5 199.7h0M489.0 222.6h0M615.3 216.4h0M665.5 223.7h0M532.1 209.1h0M662.0 220.0h0M408.0 195.2h0M629.7 213.1h0M668.5 210.5h0M655.7 184.9h0M627.8 225.1h0M553.0 199.6h0M553.0 194.0h0M576.5 196.2h0M668.3 224.9h0M539.4 193.0h0M669.8 226.8h0M676.7 207.9h0M631.1 195.4h0M571.1 207.1h0M544.6 203.3h0M540.5 185.5h0M626.6 226.5h0M649.3 214.8h0M546.0 191.4h0M667.4 224.7h0M580.1 202.1h0M676.6 225.2h0M673.7 225.8h0M405.5 178.3h0M666.5 202.9h0M662.7 207.4h0M538.5 202.7h0M631.9 230.7h0M651.3 227.1h0M552.5 187.6h0M516.0 220.7h0M651.6 199.6h0M577.0 202.8h0M568.6 210.8h0M669.8 228.1h0M540.4 193.4h0M602.0 213.1h0M632.4 225.7h0M664.6 194.8h0M660.1 205.7h0M463.2 204.7h0M660.9 190.0h0M541.0 196.9h0M536.2 187.8h0M416.7 204.9h0M575.6 200.9h0M674.7 212.9h0M657.7 195.5h0M628.7 202.1h0M607.7 217.8h0M664.5 229.8h0M656.0 224.6h0M555.3 191.6h0M667.8 230.9h0M645.6 229.7h0M641.4 228.1h0M656.2 192.8h0M661.1 221.8h0M664.4 222.9h0M653.3 192.1h0M537.6 204.3h0M657.2 206.1h0M658.3 223.0h0M534.2 200.2h0M550.0 188.7h0M604.9 227.1h0M656.7 198.5h0M627.8 205.5h0M657.3 182.8h0M410.4 168.7h0M448.9 207.5h0M660.0 191.5h0M663.6 193.0h0M647.3 213.9h0M556.7 218.2h0M475.6 220.6h0M578.9 225.2h0M547.9 202.4h0M652.7 193.0h0M541.3 200.8h0M666.0 201.8h0M664.3 202.4h0M668.2 219.6h0M551.6 192.3h0M648.9 230.3h0M665.9 201.7h0M663.8 195.2h0M582.3 189.5h0M403.5 175.7h0M406.5 179.7h0M547.3 196.6h0M677.6 209.1h0M534.8 201.4h0M659.8 191.4h0M675.7 206.3h0M603.2 206.3h0M653.2 215.2h0M635.7 212.3h0M657.5 228.4h0M658.2 225.0h0M544.3 201.5h0M659.8 190.4h0M528.5 209.5h0M546.0 195.4h0M666.3 199.9h0M657.0 219.5h0M633.7 201.7h0M674.6 205.5h0M609.6 218.8h0M547.9 190.5h0M586.3 193.6h0M543.9 187.9h0M635.5 205.4h0M617.2 215.2h0M661.2 216.5h0M626.0 199.4h0M662.7 213.2h0M652.5 191.2h0M623.2 200.2h0M628.2 207.7h0M582.4 189.8h0M421.4 209.7h0M642.4 221.6h0M573.8 223.5h0M407.9 162.4h0M577.0 209.5h0M552.0 196.9h0M652.1 202.8h0M642.6 211.5h0M551.5 210.6h0M547.0 193.6h0M633.8 225.0h0M549.1 201.1h0M677.9 225.2h0M541.2 184.5h0M665.5 219.8h0M615.3 215.4h0M589.9 221.7h0M568.9 205.5h0M619.9 223.3h0M608.6 218.3h0M534.1 210.4h0M588.0 203.4h0M583.0 191.3h0M658.1 200.9h0M598.0 200.5h0M440.0 212.6h0M645.8 224.8h0M408.0 162.2h0M660.4 227.1h0M576.8 195.2h0M672.0 220.3h0M663.3 211.9h0M409.7 181.1h0M554.2 199.3h0M626.5 225.4h0M669.7 210.2h0M528.0 202.7h0M659.0 193.2h0M673.4 210.3h0M596.4 216.0h0M553.6 191.6h0M675.0 225.7h0M583.5 198.1h0M631.0 198.7h0M663.2 219.8h0M402.3 215.5h0M653.9 198.3h0M409.5 170.8h0M556.3 201.0h0M659.7 228.9h0M637.8 230.9h0M556.8 199.9h0M408.5 177.1h0M407.8 185.5h0M554.8 198.4h0M629.8 214.1h0M628.4 215.9h0M672.4 220.7h0M601.9 204.9h0M525.0 217.8h0M662.4 203.6h0M655.5 187.4h0M537.2 202.0h0M405.8 191.7h0M595.6 207.1h0M617.9 206.9h0M532.5 204.0h0M586.8 198.3h0M572.5 217.1h0M645.4 210.6h0M538.6 206.2h0M664.2 196.3h0M646.0 218.6h0M403.3 196.5h0M656.8 202.0h0M597.8 208.9h0M545.3 197.5h0M462.7 229.8h0M628.5 229.1h0M547.7 199.3h0M543.5 186.1h0M553.6 203.1h0M524.6 199.3h0M546.9 196.2h0M652.6 215.7h0M661.9 227.3h0M634.0 204.4h0M613.7 216.8h0M402.1 176.1h0M658.9 197.0h0M655.5 218.4h0M536.4 204.5h0M653.8 217.8h0M406.9 172.2h0M529.1 203.0h0M431.8 204.9h0M551.7 197.1h0M426.4 226.9h0M662.5 206.0h0M654.0 202.5h0M615.8 213.1h0M646.4 201.5h0M625.2 219.7h0M659.9 212.1h0M632.5 201.7h0M597.4 200.3h0M604.4 222.9h0M648.3 216.6h0M580.9 187.1h0M620.3 226.1h0M515.1 205.6h0M623.2 208.0h0M535.1 191.4h0M583.4 191.4h0M585.2 209.5h0M631.4 195.6h0M645.0 222.0h0M665.6 226.4h0M543.8 189.1h0M596.3 217.4h0M662.3 204.1h0M623.0 201.0h0M581.7 195.2h0M549.7 189.1h0M654.2 193.4h0M653.8 194.3h0M625.7 218.1h0M648.8 197.7h0M607.8 217.4h0M634.0 221.7h0M632.3 197.5h0M563.0 223.1h0M535.6 188.1h0M654.3 190.6h0M659.5 201.7h0M643.1 206.6h0M657.7 193.8h0M414.4 196.9h0M552.5 196.3h0M606.6 225.0h0M407.6 179.3h0M537.9 207.5h0M599.2 204.6h0M634.0 230.1h0M667.7 227.5h0M596.9 202.2h0M673.8 221.8h0M630.8 214.3h0M665.1 202.3h0M648.2 216.2h0M633.4 205.1h0M651.4 218.2h0M535.2 201.4h0M664.6 215.2h0M540.8 191.5h0M648.9 213.9h0M676.7 226.7h0M628.6 196.8h0M533.0 194.6h0M536.0 196.6h0M616.6 213.2h0M553.3 194.3h0M626.3 225.7h0M573.9 223.1h0M557.7 198.0h0M628.5 219.4h0M582.6 190.5h0M657.2 216.4h0M677.3 205.0h0M658.9 218.1h0M556.7 196.1h0M541.9 184.2h0M428.3 205.8h0M534.6 207.5h0M594.5 215.2h0M606.2 216.7h0M551.6 198.4h0M542.3 187.6h0M550.8 197.6h0M677.8 203.1h0M584.4 189.0h0M550.9 200.3h0M645.7 205.9h0M652.5 224.0h0M667.7 225.8h0M648.5 198.2h0M610.5 220.9h0M513.7 207.8h0M640.9 229.4h0M656.1 186.2h0M543.9 217.2h0M537.7 191.9h0M412.8 189.9h0M626.6 209.0h0M655.4 219.0h0M533.3 204.9h0M638.1 227.5h0M654.7 205.7h0M601.5 214.6h0M676.5 224.5h0M662.7 229.4h0M659.2 201.8h0M635.7 228.5h0M542.0 192.6h0M637.5 210.3h0M585.8 204.0h0M603.8 217.7h0M627.4 213.6h0M552.1 202.3h0M579.5 207.1h0M668.6 208.7h0M534.6 198.7h0M531.3 219.6h0M644.7 218.8h0M611.5 213.1h0M411.3 164.7h0M663.4 202.8h0M655.2 211.7h0M643.7 222.5h0M652.2 203.2h0M633.2 202.3h0M412.8 186.6h0M579.2 205.9h0M551.8 193.7h0M657.0 209.9h0M553.4 192.8h0M585.8 231.0h0M412.5 177.3h0M667.7 219.6h0M598.2 199.4h0M572.6 219.0h0M538.4 198.1h0M555.8 208.0h0M633.9 229.1h0M409.7 170.8h0M550.0 198.0h0M654.3 203.2h0M538.4 193.7h0M627.7 206.7h0M555.7 190.7h0M555.7 197.9h0M670.4 221.6h0M556.6 193.1h0M662.3 189.1h0M576.8 200.8h0M647.0 204.1h0M595.7 223.0h0M670.3 211.4h0M603.5 223.1h0M538.0 192.2h0M650.1 194.7h0M552.7 195.9h0M419.3 219.9h0M644.5 224.6h0M578.2 206.0h0M552.6 189.0h0M603.5 212.8h0M647.6 220.4h0M408.0 194.4h0M634.2 218.0h0M554.5 204.6h0M657.8 192.3h0M658.8 197.0h0M671.6 220.7h0M653.0 216.0h0M660.6 198.7h0M658.5 219.1h0M553.6 189.4h0M561.4 228.3h0M646.1 209.7h0M663.6 218.6h0M597.6 202.8h0M646.7 226.2h0M546.8 194.7h0M631.7 195.0h0M527.4 202.0h0M551.2 187.4h0M673.6 222.3h0M554.1 188.4h0M660.5 205.0h0M547.3 208.7h0M661.7 216.2h0M590.0 212.4h0M664.9 193.8h0M563.0 206.2h0M543.6 196.1h0M409.1 165.7h0M549.1 199.1h0M635.5 198.7h0M546.1 208.6h0M573.3 228.7h0M539.4 197.0h0M652.2 191.2h0M612.9 216.9h0M406.3 160.4h0M630.3 213.7h0M645.8 225.7h0M450.4 212.1h0M544.3 185.7h0M674.5 230.5h0M535.4 195.4h0M671.0 222.9h0M647.2 201.3h0M600.9 204.2h0M529.6 204.6h0M584.2 202.3h0M532.8 216.3h0M605.9 220.5h0M487.7 215.9h0M582.6 191.3h0M524.3 230.3h0M670.2 226.2h0M651.2 202.9h0M630.8 217.7h0M413.0 225.2h0M668.7 230.3h0M585.6 192.3h0M620.9 203.8h0M662.6 204.9h0M576.5 209.0h0M543.5 196.4h0M576.1 231.0h0M634.5 206.5h0M557.8 201.8h0M502.3 223.5h0M623.5 205.4h0M631.4 202.4h0M598.9 198.9h0M551.9 198.1h0M633.6 209.8h0M660.6 199.5h0M664.2 205.3h0M539.9 200.8h0M539.4 190.9h0M551.8 188.4h0M554.5 185.9h0M442.2 214.0h0M538.5 209.6h0M647.9 226.3h0M633.4 202.6h0M669.2 223.9h0M661.6 189.5h0M545.7 196.3h0M640.6 209.0h0M638.7 206.3h0M651.4 219.7h0M638.0 213.4h0M490.1 229.2h0M542.6 198.8h0M658.6 202.0h0M586.0 197.6h0M665.3 199.9h0M575.6 198.4h0M591.8 214.9h0M625.8 202.2h0M407.9 169.6h0M668.3 221.8h0M557.3 197.5h0M649.9 208.5h0M537.8 198.8h0M557.6 205.9h0M666.4 204.5h0M657.6 215.3h0M657.7 199.8h0M664.8 225.7h0M649.2 198.6h0M579.2 188.8h0M650.9 222.2h0M659.0 222.8h0M547.4 207.1h0M546.9 191.6h0M678.7 207.5h0M677.5 225.9h0M408.2 185.7h0M435.6 204.1h0M625.9 216.1h0M554.8 216.0h0M662.3 190.6h0M624.5 220.4h0M635.8 199.5h0M670.9 208.3h0M621.1 211.6h0M577.2 210.1h0M589.1 210.1h0M599.6 225.1h0M538.5 185.9h0M634.3 202.0h0M552.5 197.5h0M535.8 197.1h0M618.8 211.2h0M427.4 200.3h0M652.9 228.0h0M674.9 211.6h0M639.8 226.7h0M672.5 210.0h0M658.2 194.1h0M580.9 187.1h0M403.1 180.0h0M634.1 216.3h0M651.6 192.6h0M413.5 191.7h0M655.3 207.0h0M659.4 188.9h0M584.6 213.5h0M546.6 190.7h0M580.1 188.7h0M578.1 197.6h0M654.2 201.1h0M592.8 217.2h0M537.3 186.9h0M410.9 210.0h0M658.8 214.4h0M647.4 217.1h0M430.9 206.7h0M651.5 201.4h0M550.9 193.1h0M663.0 196.1h0M585.0 207.8h0M587.2 201.1h0M651.3 216.8h0M551.7 203.3h0M649.7 229.5h0M571.9 213.0h0M664.8 198.4h0M648.6 230.5h0M629.2 219.3h0M650.7 195.4h0M444.2 210.6h0M650.7 196.2h0M408.7 193.8h0M579.5 223.0h0M649.4 202.8h0M548.5 197.5h0M673.3 215.0h0M615.5 224.0h0M664.5 193.0h0M659.8 209.7h0M567.5 225.9h0M462.0 212.5h0M404.6 189.7h0M671.9 221.5h0M663.9 226.8h0M452.2 214.5h0M678.6 226.6h0M532.7 210.5h0M663.8 203.7h0M670.0 220.8h0M574.5 202.6h0M554.7 200.6h0M677.6 230.0h0M542.7 202.8h0M409.9 159.3h0M547.2 230.1h0M579.1 197.0h0M509.2 228.4h0M556.7 196.7h0M658.3 203.1h0M651.3 203.1h0M585.5 197.8h0M583.0 203.3h0M676.5 212.4h0M599.8 208.1h0M631.0 211.3h0M539.5 199.0h0M535.7 189.4h0M652.0 197.3h0M537.5 206.3h0M547.6 203.4h0M408.2 192.6h0M583.4 191.8h0M628.3 207.6h0M628.2 198.1h0M564.6 210.2h0M578.2 200.1h0M449.7 222.7h0M550.5 188.7h0M638.9 216.2h0M629.5 219.8h0M510.5 223.7h0M655.8 212.4h0M409.6 177.1h0M580.5 228.8h0M652.9 203.4h0M540.2 186.7h0M642.6 215.3h0M649.3 207.7h0M541.8 187.9h0M445.6 215.2h0M536.2 197.0h0M672.0 207.4h0M544.6 191.3h0M596.8 203.4h0M664.2 201.8h0M657.4 190.7h0M578.2 207.9h0M543.0 192.9h0M556.4 199.4h0M668.5 205.9h0M582.8 191.0h0M402.2 194.6h0M659.5 217.3h0M631.1 198.3h0M533.6 201.2h0M664.9 228.2h0M656.7 220.5h0M628.6 198.3h0M545.4 189.3h0M546.5 200.6h0M662.9 220.0h0M627.9 214.0h0M678.4 206.1h0M404.9 173.0h0M408.4 175.8h0M656.6 186.5h0M537.6 197.0h0M402.8 212.2h0M427.0 210.8h0M544.5 200.4h0M577.8 195.6h0M640.8 209.2h0M581.6 191.5h0M593.4 224.3h0M676.7 211.3h0M631.1 203.0h0M551.8 186.8h0M677.4 224.9h0M658.1 195.0h0M563.9 208.8h0M632.7 195.1h0M625.3 223.8h0M411.8 173.2h0M663.8 206.6h0M627.4 223.7h0M637.5 227.5h0M594.4 215.0h0M541.5 218.0h0M664.3 203.2h0M651.3 219.9h0M652.8 200.5h0M588.4 208.3h0M458.8 225.9h0M533.9 201.3h0M477.3 217.7h0M577.0 195.0h0M506.3 227.4h0M557.1 195.8h0M412.8 168.8h0M625.1 228.2h0M677.2 217.3h0M556.6 205.8h0M659.9 220.8h0M403.6 159.5h0M665.0 198.8h0M666.7 211.1h0M650.9 227.3h0M647.0 203.3h0M520.6 211.0h0M621.5 210.3h0M533.2 194.3h0M539.1 214.0h0M540.2 184.2h0M540.4 190.8h0M655.4 210.4h0M575.3 209.5h0M673.9 225.8h0M638.6 213.2h0M453.9 216.6h0M412.2 185.0h0M656.1 202.5h0M647.8 205.5h0M597.6 198.5h0M583.3 202.2h0M660.3 224.3h0M660.9 226.2h0M582.7 189.8h0M410.1 180.1h0M576.2 201.5h0M606.4 211.8h0M653.9 222.3h0M410.1 194.6h0M547.8 206.5h0M550.7 218.4h0M542.1 195.2h0M654.5 194.8h0M533.2 201.4h0M542.7 199.3h0M535.9 194.5h0M657.8 226.2h0M636.8 205.7h0M654.1 203.5h0M668.2 214.5h0M677.1 229.2h0M538.2 220.0h0M553.2 221.3h0M664.1 215.6h0M635.0 197.7h0M668.5 220.4h0M652.1 226.9h0M623.2 211.2h0M559.4 216.4h0M612.4 220.4h0M657.3 205.4h0M446.6 202.9h0M412.2 195.6h0M504.6 231.0h0M628.2 200.9h0M582.8 195.0h0M557.0 202.7h0M584.5 198.9h0M677.6 203.5h0M644.4 227.0h0M648.2 230.5h0M601.3 205.4h0M643.9 210.4h0M618.4 221.2h0M445.0 202.1h0M599.9 205.1h0M650.5 214.2h0M402.9 179.2h0M584.4 199.2h0M627.5 198.2h0M600.4 225.6h0M558.5 218.7h0M636.9 221.7h0M582.8 187.3h0M580.3 192.3h0M599.5 210.8h0M662.0 195.8h0M652.3 201.2h0M555.4 192.0h0M509.2 212.6h0M659.9 215.1h0M534.1 192.7h0M654.9 189.2h0M407.5 170.3h0M656.7 194.3h0M655.5 216.2h0M568.3 208.6h0M648.4 197.3h0M613.9 221.0h0M550.0 202.2h0M675.2 206.8h0M590.4 224.0h0M628.0 194.7h0M541.8 201.2h0M647.9 199.4h0M643.2 226.3h0M534.4 194.1h0M409.6 192.8h0M537.3 198.1h0M663.1 208.2h0M644.2 210.6h0M437.7 214.3h0M411.5 206.2h0M663.8 214.6h0M424.6 204.2h0M581.5 190.6h0M645.2 207.1h0M552.2 219.6h0M657.3 207.1h0M462.3 213.9h0M666.7 207.8h0M448.4 217.9h0M614.6 213.3h0M409.3 173.0h0M549.8 197.7h0M642.2 204.3h0M625.3 209.6h0M553.9 201.9h0M555.7 190.8h0M404.0 193.0h0M656.2 228.1h0M574.0 229.0h0M520.3 204.5h0M660.7 215.7h0M673.7 208.8h0M679.0 212.7h0M630.2 192.9h0M583.9 213.2h0M665.4 215.8h0M407.8 173.1h0M663.5 205.7h0M549.3 198.5h0M555.1 186.8h0M543.8 220.5h0M555.3 197.4h0M582.3 187.3h0M580.2 192.3h0M576.8 207.6h0M535.0 205.7h0M566.0 212.1h0M595.6 208.4h0M537.6 186.9h0M673.8 224.3h0M631.9 206.5h0M594.1 216.6h0M540.9 201.2h0M542.4 187.2h0M660.9 193.9h0M666.8 223.6h0M575.2 199.0h0M670.9 230.3h0M568.6 214.5h0M608.1 214.9h0M659.2 198.9h0M540.5 191.5h0M655.5 213.3h0M649.7 202.3h0M655.5 185.9h0M561.5 213.3h0M635.1 217.5h0M445.6 219.2h0M541.6 198.2h0M634.1 223.7h0M410.1 183.5h0M552.0 224.3h0M549.4 201.3h0M582.0 203.8h0M617.5 209.0h0M577.1 196.2h0M581.6 196.4h0M674.4 205.9h0M562.3 208.8h0M628.2 230.2h0M446.9 230.0h0M587.5 201.1h0M448.5 211.6h0M405.2 182.2h0M670.4 229.2h0M659.5 191.0h0M421.2 222.1h0M409.8 170.3h0M557.6 196.0h0M532.2 204.1h0M667.9 214.0h0M655.4 227.1h0M408.3 187.8h0M552.8 198.9h0M658.3 204.8h0M465.5 211.3h0M584.6 189.4h0M659.5 202.9h0M526.5 200.5h0M542.1 187.1h0M653.9 220.7h0M526.7 203.8h0M655.2 227.8h0M622.3 227.8h0M657.4 212.7h0M647.7 206.6h0M452.3 227.0h0M656.2 195.0h0M637.1 208.7h0M492.0 225.5h0M658.1 196.4h0M673.5 213.0h0M670.2 216.7h0M624.0 198.5h0M525.6 207.1h0M444.1 203.8h0M665.8 229.8h0M536.7 208.8h0M655.0 189.2h0M676.1 227.1h0M603.2 208.5h0M569.8 221.7h0M407.5 163.7h0M629.1 211.8h0M639.4 207.0h0M554.8 201.7h0M528.7 202.9h0M580.0 200.1h0" stroke="#c1121f" stroke-width="2.8" stroke-linecap="round" fill="none"/>
<rect x="400.59999999999997" y="224.6" width="136.6" height="6.6" fill="#073350"/>
<path d="M444.1 227.5h0M422.3 225.2h0M438.6 228.3h0M401.8 225.8h0M419.5 227.0h0M414.2 226.0h0M498.5 229.1h0M448.1 226.5h0M441.3 231.4h0M481.9 225.3h0M522.8 230.6h0M447.7 229.6h0M564.9 227.6h0M530.3 229.4h0M419.9 228.3h0M466.5 228.8h0M415.1 227.9h0M489.2 228.4h0M448.8 229.6h0M443.7 227.1h0M472.0 230.4h0M493.0 226.3h0M474.6 229.5h0M410.3 230.1h0M443.1 230.3h0M435.6 228.4h0M455.0 226.2h0M536.1 231.3h0M481.1 231.1h0M401.0 226.1h0M494.5 225.9h0M539.5 229.3h0M447.2 228.8h0M446.7 226.1h0M462.7 230.0h0M508.1 226.7h0M501.7 227.6h0M478.8 230.1h0M480.0 228.6h0M520.5 229.8h0M441.0 230.2h0M474.3 229.5h0M439.3 227.1h0M524.0 226.6h0M435.1 229.2h0M470.4 227.7h0M521.5 225.8h0M524.3 226.8h0M464.6 226.7h0M463.0 228.7h0M441.3 230.4h0M421.7 230.3h0M531.2 230.5h0M431.2 227.6h0M517.3 228.4h0M447.2 228.4h0M419.2 226.2h0M543.7 231.0h0M404.6 227.6h0M456.5 230.1h0M449.9 225.6h0M435.0 226.7h0M441.2 229.8h0M418.6 230.1h0M426.7 225.9h0M418.9 226.1h0M555.0 227.5h0M543.5 226.1h0M526.6 228.9h0M416.3 229.9h0M456.8 227.9h0M498.6 229.4h0M451.9 230.3h0M415.7 226.3h0M499.6 227.9h0M418.9 230.1h0M403.9 227.7h0M489.3 229.5h0M426.3 227.5h0M522.0 229.5h0M492.7 229.0h0M506.0 225.3h0M474.0 229.6h0M501.6 227.4h0M468.8 230.1h0M536.2 227.8h0M509.1 226.4h0M459.9 228.6h0M407.6 228.2h0M490.6 225.8h0M439.6 230.8h0M454.6 230.6h0M414.6 230.9h0M475.9 226.8h0M406.2 229.1h0M484.8 229.7h0M494.9 228.9h0M500.1 226.0h0M416.6 227.4h0M520.1 231.1h0M471.8 228.7h0M471.0 228.9h0M470.8 227.1h0M425.3 225.3h0M424.1 226.7h0M476.6 228.4h0M477.0 229.4h0M441.5 224.9h0M401.8 230.9h0M402.2 228.8h0M438.4 230.0h0M406.2 226.2h0M440.6 230.7h0M437.0 230.4h0M516.9 228.5h0M421.2 230.0h0M450.8 228.1h0M480.3 229.2h0M477.5 228.5h0M519.7 229.4h0M482.5 228.5h0M473.9 226.4h0M441.8 228.3h0M496.9 227.2h0M410.4 226.9h0M408.6 225.7h0M424.4 230.5h0M515.7 230.8h0M404.8 226.5h0M531.1 230.0h0M409.5 227.2h0M531.1 227.5h0M435.3 225.6h0M473.9 230.2h0M565.3 227.4h0M484.3 227.2h0M460.7 229.0h0M489.4 227.7h0M447.9 225.8h0M436.6 230.2h0M455.9 225.2h0M405.8 230.1h0M444.8 226.1h0M443.7 227.2h0M532.7 228.0h0M494.5 226.4h0M424.4 226.1h0M426.3 226.4h0M415.7 227.4h0M431.3 228.5h0M472.4 225.6h0M449.5 227.7h0M470.0 228.7h0M482.3 227.4h0M532.2 228.5h0M432.1 230.1h0M402.7 228.4h0M489.3 228.9h0M436.7 228.4h0M555.9 224.7h0M424.7 227.6h0M414.7 230.5h0M432.7 224.8h0M514.8 229.2h0M480.3 226.9h0M525.0 227.2h0M536.3 229.5h0M499.0 226.7h0M480.8 227.2h0M418.5 228.9h0M476.4 230.0h0M451.9 227.2h0M483.9 227.6h0M501.4 226.9h0M451.0 225.8h0M551.6 228.1h0M533.2 230.0h0M408.1 227.1h0M406.2 228.4h0M412.4 228.6h0M533.6 227.5h0M536.1 229.9h0M415.5 230.8h0M518.5 230.0h0M480.9 226.4h0M465.7 230.1h0M434.4 230.1h0M527.9 229.3h0M438.4 231.0h0M453.8 226.9h0M533.5 225.4h0M441.3 227.2h0M525.0 227.7h0M403.1 226.4h0M521.8 226.7h0M524.0 227.7h0M510.3 226.2h0M542.7 226.2h0M502.7 226.4h0M421.4 227.3h0M543.5 225.6h0M541.8 227.1h0M488.9 226.5h0M476.4 225.6h0M465.3 229.7h0M461.5 230.1h0M415.1 226.4h0M425.7 226.8h0M480.3 226.9h0M437.0 228.1h0M478.8 225.2h0M472.0 227.0h0M419.2 228.3h0M522.2 229.8h0M526.1 227.1h0M544.5 228.1h0M405.7 227.4h0M441.4 224.8h0M411.8 227.8h0M460.3 229.3h0M436.7 225.3h0M458.4 227.5h0M467.3 226.0h0M542.8 229.2h0M409.2 229.7h0M534.5 231.1h0M467.5 225.8h0M449.3 226.5h0M468.0 230.4h0M430.7 228.3h0M522.5 228.4h0M425.0 226.3h0M410.0 229.6h0M469.0 225.8h0M474.8 228.1h0M440.9 229.1h0M513.2 225.9h0M477.9 225.0h0M449.4 229.3h0M501.5 226.3h0M503.9 227.2h0M411.7 229.4h0M520.8 225.2h0M464.7 228.9h0M433.7 230.1h0M483.9 229.3h0M498.5 228.4h0M479.1 227.6h0M537.7 228.7h0M416.4 229.2h0M456.8 231.0h0M411.2 225.0h0M477.0 230.2h0M509.6 225.7h0M471.6 224.9h0M432.4 227.4h0M482.4 227.8h0M531.4 230.0h0M431.3 225.5h0M438.7 228.8h0M522.4 225.6h0M454.0 227.5h0M474.2 227.3h0M523.4 226.4h0M515.6 227.0h0M478.5 228.6h0M454.6 230.5h0M539.5 226.8h0M476.5 229.7h0M489.2 230.8h0M416.3 228.7h0M456.0 225.8h0M528.9 227.8h0M420.8 226.4h0M487.2 229.6h0M515.0 226.0h0M422.5 226.7h0M532.1 225.7h0M517.5 228.0h0M540.3 229.7h0M426.5 225.9h0M468.1 226.9h0M473.7 230.3h0M442.7 226.3h0M531.9 231.3h0M463.3 230.3h0M529.3 230.8h0M440.0 228.1h0M501.4 230.5h0M470.6 226.1h0M422.9 226.6h0M471.2 225.7h0M511.1 229.7h0M537.0 225.8h0M500.3 225.5h0M480.1 227.7h0M412.8 226.9h0M528.4 230.3h0M496.8 227.5h0M469.2 227.4h0M530.3 224.9h0M467.5 230.1h0M515.1 227.5h0M533.2 231.2h0M445.8 230.2h0M452.0 230.3h0M403.3 225.1h0M426.4 229.8h0M457.1 229.1h0M441.7 230.3h0M531.8 225.6h0M446.5 230.6h0M432.4 227.3h0M546.5 226.5h0M530.0 228.9h0M534.6 227.3h0M405.7 230.0h0M404.1 225.8h0M526.9 230.5h0M488.6 229.2h0M407.4 230.0h0M543.9 230.3h0M472.5 229.9h0M459.9 228.6h0M421.5 230.9h0M489.1 226.4h0M408.0 229.6h0M517.3 230.4h0M449.1 229.3h0M466.4 227.5h0M531.7 228.8h0M431.5 229.1h0M490.5 231.4h0M453.0 231.0h0M520.0 230.9h0M439.7 228.5h0M476.7 229.4h0M459.8 230.0h0M417.4 226.7h0M531.2 229.3h0M416.2 229.4h0M515.1 226.3h0M407.3 225.7h0M505.8 225.8h0M540.6 230.5h0M439.7 230.6h0M449.1 227.6h0M478.5 225.5h0M512.3 230.4h0M489.7 229.0h0M462.1 225.5h0M519.5 229.9h0M402.0 225.2h0M500.9 228.5h0M461.4 226.8h0M540.2 225.7h0M471.1 229.8h0M459.2 225.3h0M504.9 230.4h0M454.5 225.1h0M456.8 226.8h0M475.6 231.1h0M513.4 229.8h0M432.7 231.0h0M528.4 228.8h0M488.4 229.5h0M505.7 227.5h0M522.3 229.1h0M405.8 225.9h0M435.2 228.2h0M563.9 226.2h0M408.9 228.9h0M476.5 226.7h0M421.6 227.4h0M437.2 226.4h0M466.9 229.8h0M416.0 228.8h0M482.6 226.6h0M536.2 231.0h0M486.2 229.1h0M448.6 225.5h0M499.8 226.9h0M429.3 229.5h0M415.1 229.9h0M427.0 227.7h0M459.7 225.9h0M409.4 230.9h0M418.4 230.3h0M474.6 226.6h0M411.5 226.9h0M510.7 230.1h0M476.3 225.9h0M417.6 227.7h0M505.3 231.3h0M533.2 230.3h0M436.4 229.6h0M478.0 225.9h0M491.4 231.3h0M504.5 230.0h0M461.4 226.3h0M422.2 228.7h0M480.9 225.7h0M455.9 229.0h0M408.8 226.8h0M463.2 230.3h0M464.0 230.1h0M515.0 230.7h0M537.1 227.3h0M503.5 226.4h0M515.5 226.3h0M456.3 226.1h0M474.8 225.9h0M521.4 228.8h0M435.5 227.1h0M541.9 225.4h0M405.8 224.9h0M408.3 226.1h0M423.5 227.0h0M421.1 229.1h0M541.9 227.7h0M453.5 229.2h0M558.8 225.5h0M404.4 225.1h0M489.2 227.1h0" stroke="#073350" stroke-width="2.6" stroke-linecap="round" fill="none"/>
<polyline points="400.7,172.0 402.4,177.5 408.4,190.0 412.4,201.0 414.0,203.5 419.8,210.8 431.2,215.6 448.6,217.8 466.2,217.5 482.2,216.5 501.2,215.0 526.2,210.5 546.2,209.0 562.2,208.5 581.2,209.0 606.2,211.0 642.2,214.0 661.2,218.0 679.7,221.0" fill="none" stroke="#2a8f2a" stroke-width="1.3"/>
<polyline points="634.2,196.0 643.2,200.0 661.2,206.0 679.7,211.0" fill="none" stroke="#2a8f2a" stroke-width="1.3"/>
<polyline points="400.7,133.0 403.2,142.0 405.6,150.0 408.7,158.5 411.8,171.0 413.7,181.0 418.7,195.0 426.8,204.7 436.2,209.0 456.2,210.0 476.2,209.5 496.2,208.0 516.2,205.5 536.2,203.0 556.2,200.9 581.2,200.4 606.2,201.6 626.2,204.5 646.2,209.0 666.2,214.0 679.7,217.0" fill="none" stroke="#000" stroke-width="1.1" stroke-dasharray="3.9 1.55"/>
<polyline points="400.7,180.0 408.4,109.3 414.2,180.2 420.3,210.2 426.4,197.4 432.0,186.8 438.2,213.0 445.2,194.5 451.5,213.2 456.9,209.5 462.4,198.8 468.7,215.0 474.9,208.2 481.4,216.5 486.9,206.8 493.7,218.8 499.9,220.0 505.7,212.5 511.2,205.0 517.5,197.5 524.2,197.5 530.0,202.0 535.7,185.5 541.7,181.2 548.0,188.8 554.5,183.0 560.4,205.0 567.0,202.5 572.5,205.0 580.0,185.0 584.5,185.0 590.7,209.5 597.5,195.0 603.2,205.0 610.0,212.0 616.2,207.5 621.2,200.0 628.2,193.0 632.0,190.0 638.7,203.0 645.0,202.5 651.7,190.0 657.0,179.2 664.2,190.0 670.0,207.5 679.7,200.5" fill="none" stroke="#000" stroke-width="1.3" stroke-linejoin="round"/>
<path d="M400.7 180.0h0M408.4 109.3h0M414.2 180.2h0M420.3 210.2h0M426.4 197.4h0M432.0 186.8h0M438.2 213.0h0M445.2 194.5h0M451.5 213.2h0M456.9 209.5h0M462.4 198.8h0M468.7 215.0h0M474.9 208.2h0M481.4 216.5h0M486.9 206.8h0M493.7 218.8h0M499.9 220.0h0M505.7 212.5h0M511.2 205.0h0M517.5 197.5h0M524.2 197.5h0M530.0 202.0h0M535.7 185.5h0M541.7 181.2h0M548.0 188.8h0M554.5 183.0h0M560.4 205.0h0M567.0 202.5h0M572.5 205.0h0M580.0 185.0h0M584.5 185.0h0M590.7 209.5h0M597.5 195.0h0M603.2 205.0h0M610.0 212.0h0M616.2 207.5h0M621.2 200.0h0M628.2 193.0h0M632.0 190.0h0M638.7 203.0h0M645.0 202.5h0M651.7 190.0h0M657.0 179.2h0M664.2 190.0h0M670.0 207.5h0M679.7 200.5h0" stroke="#000" stroke-width="4" stroke-linecap="round" fill="none"/>
</g>
<path d="M400.60 231.6V11.2M400.60 231.6H679.50" fill="none" stroke="#a0a0a0" stroke-width="0.7"/>
<path d="M400.25 11.299999999999999H679.55V231.95" fill="none" stroke="#444" stroke-width="0.8"/>
<path d="M398.0 231.6h2.6M398.0 194.9h2.6M398.0 158.1h2.6M398.0 121.4h2.6M398.0 84.7h2.6M398.0 47.9h2.6M398.0 11.2h2.6M431.6 231.6v2.6M462.6 231.6v2.6M493.6 231.6v2.6M524.6 231.6v2.6M555.5 231.6v2.6M586.5 231.6v2.6M617.5 231.6v2.6M648.5 231.6v2.6M679.5 231.6v2.6" stroke="#777" stroke-width="0.6" fill="none"/>
<text x="397.7" y="234.9" text-anchor="end" class="tk">0.0</text>
<text x="397.7" y="198.2" text-anchor="end" class="tk">0.1</text>
<text x="397.7" y="161.4" text-anchor="end" class="tk">0.2</text>
<text x="397.7" y="124.7" text-anchor="end" class="tk">0.3</text>
<text x="397.7" y="88.0" text-anchor="end" class="tk">0.4</text>
<text x="397.7" y="51.2" text-anchor="end" class="tk">0.5</text>
<text x="397.7" y="14.5" text-anchor="end" class="tk">0.6</text>
<text x="431.6" y="243.0" text-anchor="middle" class="tk">20</text>
<text x="462.6" y="243.0" text-anchor="middle" class="tk">25</text>
<text x="493.6" y="243.0" text-anchor="middle" class="tk">30</text>
<text x="524.6" y="243.0" text-anchor="middle" class="tk">35</text>
<text x="555.5" y="243.0" text-anchor="middle" class="tk">40</text>
<text x="586.5" y="243.0" text-anchor="middle" class="tk">45</text>
<text x="617.5" y="243.0" text-anchor="middle" class="tk">50</text>
<text x="648.5" y="243.0" text-anchor="middle" class="tk">55</text>
<text x="679.5" y="243.0" text-anchor="middle" class="tk">60</text>
<text x="678.5" y="8.5" text-anchor="end" class="tt">138 fb<tspan dy="-3.9" font-size="7.6">−1</tspan><tspan dy="3.9"> (13 TeV)</tspan></text>
<text x="540.0" y="254.8" text-anchor="middle" class="lb"><tspan class="mi" style="stroke-width:0.12px">m</tspan><tspan class="mi" style="stroke-width:0.12px" dy="1.7" font-size="7.6">h</tspan><tspan dy="-1.7"> [GeV]</tspan></text>
<text transform="translate(375.4,189.55) rotate(-90)" class="mi" font-size="10.3"><tspan x="0">B</tspan><tspan x="7.65">(</tspan><tspan x="12.8">H</tspan><tspan x="20.7" dy="0.2" font-size="9.2" font-style="normal" style="stroke-width:0.4px">→</tspan><tspan x="28.35" dy="-0.2" font-size="10">h</tspan><tspan x="34.55" font-size="10">h</tspan><tspan x="39.1" dy="0.2" font-size="9.2" font-style="normal" style="stroke-width:0.4px">→</tspan><tspan x="48.4" dy="-0.2">μ</tspan><tspan x="58" dy="-4.8" font-size="5.6" font-style="normal">+</tspan><tspan x="65.4" dy="4.8">μ</tspan><tspan x="74.7" dy="-4.8" font-size="5.6" font-style="normal">−</tspan><tspan x="81.7" dy="4.8">b</tspan><tspan x="89.8">b</tspan><tspan x="97.1">)</tspan><tspan x="102.0" dy="-2.1" font-size="8.6" font-style="normal">×</tspan><tspan x="111.5" dy="2.1" font-style="normal">1</tspan><tspan x="118.1" font-style="normal">0</tspan><tspan x="126" dy="-4.8" font-size="5.6" font-style="normal">−</tspan><tspan x="131" dy="0.8" font-size="7.2" font-style="normal">3</tspan></text>
<path d="M367.0 99.6V94.9" stroke="#1a1a1a" stroke-width="0.8" fill="none"/>
<rect x="510.5" y="16.5" width="164.1" height="104.8" rx="2" fill="#fff" fill-opacity="0.8" stroke="#d4d4d4" stroke-width="0.9"/>
<path d="M514.3 24.0H535.3" stroke="#000" stroke-width="1.3"/><circle cx="524.8" cy="24.0" r="1.9"/>
<path d="M514.3 38.65H535.3" stroke="#000" stroke-width="1.3" stroke-dasharray="3.9 1.55"/>
<circle cx="524.8" cy="53.3" r="1.8" fill="#c6ccd4"/>
<circle cx="524.8" cy="67.95" r="1.8" fill="#c1121f"/>
<circle cx="524.8" cy="82.6" r="1.8" fill="#073350"/>
<rect x="514.5" y="93.85" width="20.6" height="6.8" fill="#3ccb43" stroke="#35b83c" stroke-width="0.5"/>
<rect x="514.5" y="108.50" width="20.6" height="6.8" fill="#ffde62" stroke="#ebcb58" stroke-width="0.5"/>
<text x="542.7" y="27.40" class="lg">Observed</text>
<text x="542.7" y="42.05" class="lg">Median expected</text>
<text x="542.7" y="56.70" class="lg">Allowed points from scan</text>
<text x="542.7" y="71.35" class="lg">Excluded by HB</text>
<text x="542.7" y="86.00" class="lg">Pass all</text>
<text x="542.7" y="100.65" class="lg">68% CL expected</text>
<text x="542.7" y="115.30" class="lg">95% CL expected</text>
</svg>
</body></html>
